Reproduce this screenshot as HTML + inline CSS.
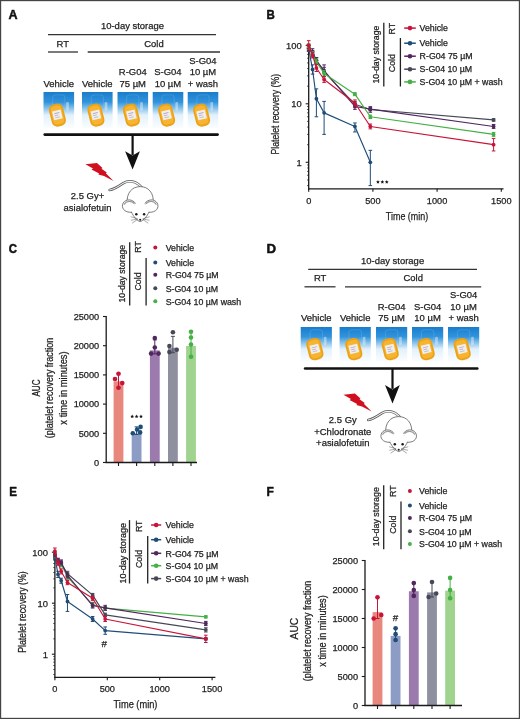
<!DOCTYPE html><html><head><meta charset="utf-8"><style>html,body{margin:0;padding:0;background:#fff;width:520px;height:719px;overflow:hidden;position:relative}</style></head><body><svg width="520" height="719" viewBox="0 0 520 719" style="position:absolute;left:0;top:0;will-change:transform;filter:blur(0.25px)">
<defs><linearGradient id="skyg" x1="0" y1="0" x2="0" y2="1"><stop offset="0" stop-color="#1a7dcc"/><stop offset="0.28" stop-color="#3193dc"/><stop offset="0.48" stop-color="#94c9ee"/><stop offset="0.64" stop-color="#e2f1fb"/><stop offset="1" stop-color="#fbfdff"/></linearGradient></defs>
<g style='font-family:"Liberation Sans", sans-serif'>
<rect x="0" y="0" width="520" height="719" fill="#fff"/>
<text transform="translate(8.47,18.55) scale(0.967,1)" x="0" y="0" font-size="13.0" font-weight="bold" fill="#111" stroke="#111" stroke-width="0.5" stroke-linejoin="round">A</text>
<text transform="translate(266.55,18.55) scale(0.883,1)" x="0" y="0" font-size="13.0" font-weight="bold" fill="#111" stroke="#111" stroke-width="0.5" stroke-linejoin="round">B</text>
<text transform="translate(8.84,252.95) scale(0.876,1)" x="0" y="0" font-size="13.0" font-weight="bold" fill="#111" stroke="#111" stroke-width="0.5" stroke-linejoin="round">C</text>
<text transform="translate(266.42,252.95) scale(1.021,1)" x="0" y="0" font-size="13.0" font-weight="bold" fill="#111" stroke="#111" stroke-width="0.5" stroke-linejoin="round">D</text>
<text transform="translate(9.14,496.35) scale(0.893,1)" x="0" y="0" font-size="13.0" font-weight="bold" fill="#111" stroke="#111" stroke-width="0.5" stroke-linejoin="round">E</text>
<text transform="translate(266.51,496.35) scale(0.923,1)" x="0" y="0" font-size="13.0" font-weight="bold" fill="#111" stroke="#111" stroke-width="0.5" stroke-linejoin="round">F</text>
<text x="132.5" y="29.4" font-size="9.7" text-anchor="middle" font-weight="normal" fill="#222" stroke="#222" stroke-width="0.25" textLength="63.09" lengthAdjust="spacingAndGlyphs" >10-day storage</text>
<line x1="48" y1="34.6" x2="216" y2="34.6" stroke="#333" stroke-width="1.3" />
<text x="62.8" y="46.6" font-size="9.7" text-anchor="middle" font-weight="normal" fill="#222" stroke="#222" stroke-width="0.25" textLength="12.44" lengthAdjust="spacingAndGlyphs" >RT</text>
<text x="154" y="46.6" font-size="9.7" text-anchor="middle" font-weight="normal" fill="#222" stroke="#222" stroke-width="0.25" textLength="19.45" lengthAdjust="spacingAndGlyphs" >Cold</text>
<line x1="48" y1="52" x2="78" y2="52" stroke="#333" stroke-width="1.3" />
<line x1="87.7" y1="52" x2="220" y2="52" stroke="#333" stroke-width="1.3" />
<text x="58.75" y="86.7" font-size="9.7" text-anchor="middle" font-weight="normal" fill="#222" stroke="#222" stroke-width="0.25" textLength="30.5" lengthAdjust="spacingAndGlyphs" >Vehicle</text>
<text x="97.25" y="86.7" font-size="9.7" text-anchor="middle" font-weight="normal" fill="#222" stroke="#222" stroke-width="0.25" textLength="30.5" lengthAdjust="spacingAndGlyphs" >Vehicle</text>
<text x="132.75" y="75.4" font-size="9.7" text-anchor="middle" font-weight="normal" fill="#222" stroke="#222" stroke-width="0.25" textLength="27.86" lengthAdjust="spacingAndGlyphs" >R-G04</text>
<text x="132.75" y="86.7" font-size="9.7" text-anchor="middle" font-weight="normal" fill="#222" stroke="#222" stroke-width="0.25" textLength="26.47" lengthAdjust="spacingAndGlyphs" >75 µM</text>
<text x="167.95" y="75.4" font-size="9.7" text-anchor="middle" font-weight="normal" fill="#222" stroke="#222" stroke-width="0.25" textLength="27.33" lengthAdjust="spacingAndGlyphs" >S-G04</text>
<text x="167.95" y="86.7" font-size="9.7" text-anchor="middle" font-weight="normal" fill="#222" stroke="#222" stroke-width="0.25" textLength="26.47" lengthAdjust="spacingAndGlyphs" >10 µM</text>
<text x="202.95" y="63.9" font-size="9.7" text-anchor="middle" font-weight="normal" fill="#222" stroke="#222" stroke-width="0.25" textLength="27.33" lengthAdjust="spacingAndGlyphs" >S-G04</text>
<text x="202.95" y="75.4" font-size="9.7" text-anchor="middle" font-weight="normal" fill="#222" stroke="#222" stroke-width="0.25" textLength="26.47" lengthAdjust="spacingAndGlyphs" >10 µM</text>
<text x="202.95" y="86.7" font-size="9.7" text-anchor="middle" font-weight="normal" fill="#222" stroke="#222" stroke-width="0.25" textLength="30.23" lengthAdjust="spacingAndGlyphs" >+ wash</text>
<g transform="translate(43.5,92)">
<rect x="0" y="0" width="30.6" height="36" fill="url(#skyg)"/>
<path d="M9.18,14.4 L9.18,5.76 Q9.18,2.88 12.240000000000002,2.88 L18.972,2.88 Q21.419999999999998,2.88 21.419999999999998,5.76 L21.419999999999998,14.4" stroke="#bfe0f6" stroke-width="0.5" fill="none" opacity="0.35"/>
<rect x="22.644000000000002" y="10.080000000000002" width="2.754" height="8.64" rx="1.2" fill="#e4eef4" opacity="0.5"/>
<g transform="translate(13.92,23.04) rotate(-14)">
<rect x="-7.19" y="-11.34" width="14.38" height="22.68" rx="5.5" fill="#eda216"/>
<rect x="-5.51" y="-9.36" width="11.02" height="18.72" rx="4" fill="#f6b430"/>
<rect x="-4.44" y="-4.68" width="8.87" height="9.00" fill="#f3eee9"/>
<rect x="-2.75" y="-2.52" width="5.20" height="0.90" fill="#aab0d0"/>
<rect x="-2.75" y="-0.36" width="3.67" height="0.90" fill="#c0acd0"/>
<rect x="-2.75" y="1.80" width="4.59" height="0.90" fill="#b0c2dc"/>
</g>
</g>
<g transform="translate(82,92)">
<rect x="0" y="0" width="30.6" height="36" fill="url(#skyg)"/>
<path d="M9.18,14.4 L9.18,5.76 Q9.18,2.88 12.240000000000002,2.88 L18.972,2.88 Q21.419999999999998,2.88 21.419999999999998,5.76 L21.419999999999998,14.4" stroke="#bfe0f6" stroke-width="0.5" fill="none" opacity="0.35"/>
<rect x="22.644000000000002" y="10.080000000000002" width="2.754" height="8.64" rx="1.2" fill="#e4eef4" opacity="0.5"/>
<g transform="translate(13.92,23.04) rotate(-14)">
<rect x="-7.19" y="-11.34" width="14.38" height="22.68" rx="5.5" fill="#eda216"/>
<rect x="-5.51" y="-9.36" width="11.02" height="18.72" rx="4" fill="#f6b430"/>
<rect x="-4.44" y="-4.68" width="8.87" height="9.00" fill="#f3eee9"/>
<rect x="-2.75" y="-2.52" width="5.20" height="0.90" fill="#aab0d0"/>
<rect x="-2.75" y="-0.36" width="3.67" height="0.90" fill="#c0acd0"/>
<rect x="-2.75" y="1.80" width="4.59" height="0.90" fill="#b0c2dc"/>
</g>
</g>
<g transform="translate(117.5,92)">
<rect x="0" y="0" width="30.6" height="36" fill="url(#skyg)"/>
<path d="M9.18,14.4 L9.18,5.76 Q9.18,2.88 12.240000000000002,2.88 L18.972,2.88 Q21.419999999999998,2.88 21.419999999999998,5.76 L21.419999999999998,14.4" stroke="#bfe0f6" stroke-width="0.5" fill="none" opacity="0.35"/>
<rect x="22.644000000000002" y="10.080000000000002" width="2.754" height="8.64" rx="1.2" fill="#e4eef4" opacity="0.5"/>
<g transform="translate(13.92,23.04) rotate(-14)">
<rect x="-7.19" y="-11.34" width="14.38" height="22.68" rx="5.5" fill="#eda216"/>
<rect x="-5.51" y="-9.36" width="11.02" height="18.72" rx="4" fill="#f6b430"/>
<rect x="-4.44" y="-4.68" width="8.87" height="9.00" fill="#f3eee9"/>
<rect x="-2.75" y="-2.52" width="5.20" height="0.90" fill="#aab0d0"/>
<rect x="-2.75" y="-0.36" width="3.67" height="0.90" fill="#c0acd0"/>
<rect x="-2.75" y="1.80" width="4.59" height="0.90" fill="#b0c2dc"/>
</g>
</g>
<g transform="translate(152.7,92)">
<rect x="0" y="0" width="30.6" height="36" fill="url(#skyg)"/>
<path d="M9.18,14.4 L9.18,5.76 Q9.18,2.88 12.240000000000002,2.88 L18.972,2.88 Q21.419999999999998,2.88 21.419999999999998,5.76 L21.419999999999998,14.4" stroke="#bfe0f6" stroke-width="0.5" fill="none" opacity="0.35"/>
<rect x="22.644000000000002" y="10.080000000000002" width="2.754" height="8.64" rx="1.2" fill="#e4eef4" opacity="0.5"/>
<g transform="translate(13.92,23.04) rotate(-14)">
<rect x="-7.19" y="-11.34" width="14.38" height="22.68" rx="5.5" fill="#eda216"/>
<rect x="-5.51" y="-9.36" width="11.02" height="18.72" rx="4" fill="#f6b430"/>
<rect x="-4.44" y="-4.68" width="8.87" height="9.00" fill="#f3eee9"/>
<rect x="-2.75" y="-2.52" width="5.20" height="0.90" fill="#aab0d0"/>
<rect x="-2.75" y="-0.36" width="3.67" height="0.90" fill="#c0acd0"/>
<rect x="-2.75" y="1.80" width="4.59" height="0.90" fill="#b0c2dc"/>
</g>
</g>
<g transform="translate(187.7,92)">
<rect x="0" y="0" width="30.6" height="36" fill="url(#skyg)"/>
<path d="M9.18,14.4 L9.18,5.76 Q9.18,2.88 12.240000000000002,2.88 L18.972,2.88 Q21.419999999999998,2.88 21.419999999999998,5.76 L21.419999999999998,14.4" stroke="#bfe0f6" stroke-width="0.5" fill="none" opacity="0.35"/>
<rect x="22.644000000000002" y="10.080000000000002" width="2.754" height="8.64" rx="1.2" fill="#e4eef4" opacity="0.5"/>
<g transform="translate(13.92,23.04) rotate(-14)">
<rect x="-7.19" y="-11.34" width="14.38" height="22.68" rx="5.5" fill="#eda216"/>
<rect x="-5.51" y="-9.36" width="11.02" height="18.72" rx="4" fill="#f6b430"/>
<rect x="-4.44" y="-4.68" width="8.87" height="9.00" fill="#f3eee9"/>
<rect x="-2.75" y="-2.52" width="5.20" height="0.90" fill="#aab0d0"/>
<rect x="-2.75" y="-0.36" width="3.67" height="0.90" fill="#c0acd0"/>
<rect x="-2.75" y="1.80" width="4.59" height="0.90" fill="#b0c2dc"/>
</g>
</g>
<line x1="44.7" y1="134.6" x2="217.60000000000002" y2="134.6" stroke="#111" stroke-width="2.6" stroke-linecap="round"/>
<line x1="132.6" y1="135" x2="132.6" y2="155" stroke="#111" stroke-width="2.2" />
<polygon points="125.1,151.2 132.6,155.6 139.9,151.2 132.6,169.5" fill="#111"/>
<polygon transform="translate(0,0)" points="85.4,164.2 96.9,163 102.5,168 101.5,168.8 106.8,172.5 105.8,173.3 113.6,181 104,176 98.3,174.6 99.2,173.6 91.5,169.6 93,168.6" fill="#d0101f"/>
<text x="87.5" y="199.4" font-size="9.7" text-anchor="middle" font-weight="normal" fill="#222" stroke="#222" stroke-width="0.25" textLength="33.38" lengthAdjust="spacingAndGlyphs" >2.5 Gy+</text>
<text x="87.5" y="210.6" font-size="9.7" text-anchor="middle" font-weight="normal" fill="#222" stroke="#222" stroke-width="0.25" textLength="47.85" lengthAdjust="spacingAndGlyphs" >asialofetuin</text>
<g transform="translate(0,0)" fill="none" stroke="#505050" stroke-width="0.75" stroke-linecap="round">
<path d="M109.6,190 C114,189.5 118,186.8 123,183.4 C128.5,180 136,180.5 142,187.8" stroke="#5a5a5a" stroke-width="2.5"/>
<path d="M109.6,190 C114,189.5 118,186.8 123,183.4 C128.5,180 136,180.5 142,187.8" stroke="#f4f4f4" stroke-width="1.1"/>
<path d="M127.2,203 C126.2,193 132,186.6 140.2,186.6 C148.4,186.6 154.2,193 153.2,203" fill="#fff"/>
<path d="M135.5,203.5 C133,199 126,198.5 123.2,203 C120.8,207.5 124,212.8 131.5,212.3 Z" fill="#fff"/>
<path d="M144.9,203.5 C147.4,199 154.4,198.5 157.2,203 C159.6,207.5 156.4,212.8 148.9,212.3 Z" fill="#fff" />
<path d="M124.3,204.2 C126,200.8 131.5,200.6 134,203.2" stroke="#9a9a9a" stroke-width="1.3"/>
<path d="M146.4,203.2 C148.9,200.6 154.4,200.8 156.1,204.2" stroke="#9a9a9a" stroke-width="1.3"/>
<path d="M135.5,203.5 C133,207 131.5,210 131.5,212.3 C133.5,216.5 137,220.8 140.2,221.6 C143.4,220.8 146.9,216.5 148.9,212.3 C148.9,210 147.4,207 144.9,203.5 Z" fill="#fff" stroke="none"/>
<path d="M131.5,212.3 C133.5,216.5 137,220.8 140.2,221.6 C143.4,220.8 146.9,216.5 148.9,212.3"/>
<circle cx="136.3" cy="214.3" r="1.25" fill="#1a1a1a" stroke="none"/>
<circle cx="144.1" cy="214.3" r="1.25" fill="#1a1a1a" stroke="none"/>
<circle cx="140.2" cy="219.7" r="1.05" fill="#1a1a1a" stroke="none"/>
<path d="M137.2,218.6 L131,216.8 M137.2,219.1 L131.2,220.2 M137.4,219.6 L132.4,223 M143.2,218.6 L149.4,216.8 M143.2,219.1 L149.2,220.2 M143,219.6 L148,223" stroke="#555" stroke-width="0.5"/>
</g>
<text x="392.6" y="263.8" font-size="9.7" text-anchor="middle" font-weight="normal" fill="#222" stroke="#222" stroke-width="0.25" textLength="63.09" lengthAdjust="spacingAndGlyphs" >10-day storage</text>
<line x1="308.2" y1="269.3" x2="477" y2="269.3" stroke="#333" stroke-width="1.3" />
<text x="320.2" y="281.3" font-size="9.7" text-anchor="middle" font-weight="normal" fill="#222" stroke="#222" stroke-width="0.25" textLength="12.44" lengthAdjust="spacingAndGlyphs" >RT</text>
<text x="413.2" y="281.3" font-size="9.7" text-anchor="middle" font-weight="normal" fill="#222" stroke="#222" stroke-width="0.25" textLength="19.45" lengthAdjust="spacingAndGlyphs" >Cold</text>
<line x1="304.5" y1="286.8" x2="335.5" y2="286.8" stroke="#333" stroke-width="1.3" />
<line x1="345" y1="286.8" x2="481.2" y2="286.8" stroke="#333" stroke-width="1.3" />
<text x="316.3" y="321.3" font-size="9.7" text-anchor="middle" font-weight="normal" fill="#222" stroke="#222" stroke-width="0.25" textLength="30.5" lengthAdjust="spacingAndGlyphs" >Vehicle</text>
<text x="355.20000000000005" y="321.3" font-size="9.7" text-anchor="middle" font-weight="normal" fill="#222" stroke="#222" stroke-width="0.25" textLength="30.5" lengthAdjust="spacingAndGlyphs" >Vehicle</text>
<text x="391.6" y="310" font-size="9.7" text-anchor="middle" font-weight="normal" fill="#222" stroke="#222" stroke-width="0.25" textLength="27.86" lengthAdjust="spacingAndGlyphs" >R-G04</text>
<text x="391.6" y="321.3" font-size="9.7" text-anchor="middle" font-weight="normal" fill="#222" stroke="#222" stroke-width="0.25" textLength="26.47" lengthAdjust="spacingAndGlyphs" >75 µM</text>
<text x="427.6" y="310" font-size="9.7" text-anchor="middle" font-weight="normal" fill="#222" stroke="#222" stroke-width="0.25" textLength="27.33" lengthAdjust="spacingAndGlyphs" >S-G04</text>
<text x="427.6" y="321.3" font-size="9.7" text-anchor="middle" font-weight="normal" fill="#222" stroke="#222" stroke-width="0.25" textLength="26.47" lengthAdjust="spacingAndGlyphs" >10 µM</text>
<text x="463.6" y="298.4" font-size="9.7" text-anchor="middle" font-weight="normal" fill="#222" stroke="#222" stroke-width="0.25" textLength="27.33" lengthAdjust="spacingAndGlyphs" >S-G04</text>
<text x="463.6" y="310" font-size="9.7" text-anchor="middle" font-weight="normal" fill="#222" stroke="#222" stroke-width="0.25" textLength="26.47" lengthAdjust="spacingAndGlyphs" >10 µM</text>
<text x="463.6" y="321.3" font-size="9.7" text-anchor="middle" font-weight="normal" fill="#222" stroke="#222" stroke-width="0.25" textLength="30.23" lengthAdjust="spacingAndGlyphs" >+ wash</text>
<g transform="translate(300.7,327)">
<rect x="0" y="0" width="31.2" height="34.6" fill="url(#skyg)"/>
<path d="M9.36,13.840000000000002 L9.36,5.5360000000000005 Q9.36,2.7680000000000002 12.48,2.7680000000000002 L19.344,2.7680000000000002 Q21.84,2.7680000000000002 21.84,5.5360000000000005 L21.84,13.840000000000002" stroke="#bfe0f6" stroke-width="0.5" fill="none" opacity="0.35"/>
<rect x="23.088" y="9.688" width="2.808" height="8.304" rx="1.2" fill="#e4eef4" opacity="0.5"/>
<g transform="translate(14.20,22.14) rotate(-14)">
<rect x="-7.33" y="-10.90" width="14.66" height="21.80" rx="5.5" fill="#eda216"/>
<rect x="-5.62" y="-9.00" width="11.23" height="17.99" rx="4" fill="#f6b430"/>
<rect x="-4.52" y="-4.50" width="9.05" height="8.65" fill="#f3eee9"/>
<rect x="-2.81" y="-2.42" width="5.30" height="0.87" fill="#aab0d0"/>
<rect x="-2.81" y="-0.35" width="3.74" height="0.87" fill="#c0acd0"/>
<rect x="-2.81" y="1.73" width="4.68" height="0.87" fill="#b0c2dc"/>
</g>
</g>
<g transform="translate(339.6,327)">
<rect x="0" y="0" width="31.2" height="34.6" fill="url(#skyg)"/>
<path d="M9.36,13.840000000000002 L9.36,5.5360000000000005 Q9.36,2.7680000000000002 12.48,2.7680000000000002 L19.344,2.7680000000000002 Q21.84,2.7680000000000002 21.84,5.5360000000000005 L21.84,13.840000000000002" stroke="#bfe0f6" stroke-width="0.5" fill="none" opacity="0.35"/>
<rect x="23.088" y="9.688" width="2.808" height="8.304" rx="1.2" fill="#e4eef4" opacity="0.5"/>
<g transform="translate(14.20,22.14) rotate(-14)">
<rect x="-7.33" y="-10.90" width="14.66" height="21.80" rx="5.5" fill="#eda216"/>
<rect x="-5.62" y="-9.00" width="11.23" height="17.99" rx="4" fill="#f6b430"/>
<rect x="-4.52" y="-4.50" width="9.05" height="8.65" fill="#f3eee9"/>
<rect x="-2.81" y="-2.42" width="5.30" height="0.87" fill="#aab0d0"/>
<rect x="-2.81" y="-0.35" width="3.74" height="0.87" fill="#c0acd0"/>
<rect x="-2.81" y="1.73" width="4.68" height="0.87" fill="#b0c2dc"/>
</g>
</g>
<g transform="translate(376,327)">
<rect x="0" y="0" width="31.2" height="34.6" fill="url(#skyg)"/>
<path d="M9.36,13.840000000000002 L9.36,5.5360000000000005 Q9.36,2.7680000000000002 12.48,2.7680000000000002 L19.344,2.7680000000000002 Q21.84,2.7680000000000002 21.84,5.5360000000000005 L21.84,13.840000000000002" stroke="#bfe0f6" stroke-width="0.5" fill="none" opacity="0.35"/>
<rect x="23.088" y="9.688" width="2.808" height="8.304" rx="1.2" fill="#e4eef4" opacity="0.5"/>
<g transform="translate(14.20,22.14) rotate(-14)">
<rect x="-7.33" y="-10.90" width="14.66" height="21.80" rx="5.5" fill="#eda216"/>
<rect x="-5.62" y="-9.00" width="11.23" height="17.99" rx="4" fill="#f6b430"/>
<rect x="-4.52" y="-4.50" width="9.05" height="8.65" fill="#f3eee9"/>
<rect x="-2.81" y="-2.42" width="5.30" height="0.87" fill="#aab0d0"/>
<rect x="-2.81" y="-0.35" width="3.74" height="0.87" fill="#c0acd0"/>
<rect x="-2.81" y="1.73" width="4.68" height="0.87" fill="#b0c2dc"/>
</g>
</g>
<g transform="translate(412,327)">
<rect x="0" y="0" width="31.2" height="34.6" fill="url(#skyg)"/>
<path d="M9.36,13.840000000000002 L9.36,5.5360000000000005 Q9.36,2.7680000000000002 12.48,2.7680000000000002 L19.344,2.7680000000000002 Q21.84,2.7680000000000002 21.84,5.5360000000000005 L21.84,13.840000000000002" stroke="#bfe0f6" stroke-width="0.5" fill="none" opacity="0.35"/>
<rect x="23.088" y="9.688" width="2.808" height="8.304" rx="1.2" fill="#e4eef4" opacity="0.5"/>
<g transform="translate(14.20,22.14) rotate(-14)">
<rect x="-7.33" y="-10.90" width="14.66" height="21.80" rx="5.5" fill="#eda216"/>
<rect x="-5.62" y="-9.00" width="11.23" height="17.99" rx="4" fill="#f6b430"/>
<rect x="-4.52" y="-4.50" width="9.05" height="8.65" fill="#f3eee9"/>
<rect x="-2.81" y="-2.42" width="5.30" height="0.87" fill="#aab0d0"/>
<rect x="-2.81" y="-0.35" width="3.74" height="0.87" fill="#c0acd0"/>
<rect x="-2.81" y="1.73" width="4.68" height="0.87" fill="#b0c2dc"/>
</g>
</g>
<g transform="translate(448,327)">
<rect x="0" y="0" width="31.2" height="34.6" fill="url(#skyg)"/>
<path d="M9.36,13.840000000000002 L9.36,5.5360000000000005 Q9.36,2.7680000000000002 12.48,2.7680000000000002 L19.344,2.7680000000000002 Q21.84,2.7680000000000002 21.84,5.5360000000000005 L21.84,13.840000000000002" stroke="#bfe0f6" stroke-width="0.5" fill="none" opacity="0.35"/>
<rect x="23.088" y="9.688" width="2.808" height="8.304" rx="1.2" fill="#e4eef4" opacity="0.5"/>
<g transform="translate(14.20,22.14) rotate(-14)">
<rect x="-7.33" y="-10.90" width="14.66" height="21.80" rx="5.5" fill="#eda216"/>
<rect x="-5.62" y="-9.00" width="11.23" height="17.99" rx="4" fill="#f6b430"/>
<rect x="-4.52" y="-4.50" width="9.05" height="8.65" fill="#f3eee9"/>
<rect x="-2.81" y="-2.42" width="5.30" height="0.87" fill="#aab0d0"/>
<rect x="-2.81" y="-0.35" width="3.74" height="0.87" fill="#c0acd0"/>
<rect x="-2.81" y="1.73" width="4.68" height="0.87" fill="#b0c2dc"/>
</g>
</g>
<line x1="305.09999999999997" y1="368.5" x2="477.3" y2="368.5" stroke="#111" stroke-width="2.6" stroke-linecap="round"/>
<line x1="392.5" y1="368.9" x2="392.5" y2="388.9" stroke="#111" stroke-width="2.2" />
<polygon points="385.0,385.1 392.5,389.5 399.79999999999995,385.1 392.5,403.4" fill="#111"/>
<polygon transform="translate(258,230.5)" points="85.4,164.2 96.9,163 102.5,168 101.5,168.8 106.8,172.5 105.8,173.3 113.6,181 104,176 98.3,174.6 99.2,173.6 91.5,169.6 93,168.6" fill="#d0101f"/>
<text x="342.8" y="423.4" font-size="9.7" text-anchor="middle" font-weight="normal" fill="#222" stroke="#222" stroke-width="0.25" textLength="27.86" lengthAdjust="spacingAndGlyphs" >2.5 Gy</text>
<text x="342.8" y="434.5" font-size="9.7" text-anchor="middle" font-weight="normal" fill="#222" stroke="#222" stroke-width="0.25" textLength="57.05" lengthAdjust="spacingAndGlyphs" >+Chlodronate</text>
<text x="342.8" y="445.6" font-size="9.7" text-anchor="middle" font-weight="normal" fill="#222" stroke="#222" stroke-width="0.25" textLength="53.37" lengthAdjust="spacingAndGlyphs" >+asialofetuin</text>
<g transform="translate(258.5,230)" fill="none" stroke="#505050" stroke-width="0.75" stroke-linecap="round">
<path d="M109.6,190 C114,189.5 118,186.8 123,183.4 C128.5,180 136,180.5 142,187.8" stroke="#5a5a5a" stroke-width="2.5"/>
<path d="M109.6,190 C114,189.5 118,186.8 123,183.4 C128.5,180 136,180.5 142,187.8" stroke="#f4f4f4" stroke-width="1.1"/>
<path d="M127.2,203 C126.2,193 132,186.6 140.2,186.6 C148.4,186.6 154.2,193 153.2,203" fill="#fff"/>
<path d="M135.5,203.5 C133,199 126,198.5 123.2,203 C120.8,207.5 124,212.8 131.5,212.3 Z" fill="#fff"/>
<path d="M144.9,203.5 C147.4,199 154.4,198.5 157.2,203 C159.6,207.5 156.4,212.8 148.9,212.3 Z" fill="#fff" />
<path d="M124.3,204.2 C126,200.8 131.5,200.6 134,203.2" stroke="#9a9a9a" stroke-width="1.3"/>
<path d="M146.4,203.2 C148.9,200.6 154.4,200.8 156.1,204.2" stroke="#9a9a9a" stroke-width="1.3"/>
<path d="M135.5,203.5 C133,207 131.5,210 131.5,212.3 C133.5,216.5 137,220.8 140.2,221.6 C143.4,220.8 146.9,216.5 148.9,212.3 C148.9,210 147.4,207 144.9,203.5 Z" fill="#fff" stroke="none"/>
<path d="M131.5,212.3 C133.5,216.5 137,220.8 140.2,221.6 C143.4,220.8 146.9,216.5 148.9,212.3"/>
<circle cx="136.3" cy="214.3" r="1.25" fill="#1a1a1a" stroke="none"/>
<circle cx="144.1" cy="214.3" r="1.25" fill="#1a1a1a" stroke="none"/>
<circle cx="140.2" cy="219.7" r="1.05" fill="#1a1a1a" stroke="none"/>
<path d="M137.2,218.6 L131,216.8 M137.2,219.1 L131.2,220.2 M137.4,219.6 L132.4,223 M143.2,218.6 L149.4,216.8 M143.2,219.1 L149.2,220.2 M143,219.6 L148,223" stroke="#555" stroke-width="0.5"/>
</g>
<line x1="383.8" y1="22.7" x2="383.8" y2="86.5" stroke="#222" stroke-width="1.3" />
<line x1="400.4" y1="38" x2="400.4" y2="86.5" stroke="#222" stroke-width="1.3" />
<text transform="translate(375.8,54.6) rotate(-90)" x="0" y="3.17" font-size="8.8" text-anchor="middle" fill="#222" stroke="#222" stroke-width="0.25" textLength="57.7" lengthAdjust="spacingAndGlyphs">10-day storage</text>
<text transform="translate(392.1,28.7) rotate(-90)" x="0" y="3.17" font-size="8.8" text-anchor="middle" fill="#222" stroke="#222" stroke-width="0.25">RT</text>
<text transform="translate(392.1,63.1) rotate(-90)" x="0" y="3.17" font-size="8.8" text-anchor="middle" fill="#222" stroke="#222" stroke-width="0.25">Cold</text>
<line x1="404.2" y1="28.1" x2="415.8" y2="28.1" stroke="#c8143a" stroke-width="1.5" />
<circle cx="410.0" cy="28.1" r="2.3" fill="#c8143a"/>
<text x="419.6" y="31.3" font-size="8.8" text-anchor="start" font-weight="normal" fill="#222" stroke="#222" stroke-width="0.25" >Vehicle</text>
<line x1="404.2" y1="43.2" x2="415.8" y2="43.2" stroke="#1f4d78" stroke-width="1.5" />
<circle cx="410.0" cy="43.2" r="2.3" fill="#1f4d78"/>
<text x="419.6" y="46.400000000000006" font-size="8.8" text-anchor="start" font-weight="normal" fill="#222" stroke="#222" stroke-width="0.25" >Vehicle</text>
<line x1="404.2" y1="56.2" x2="415.8" y2="56.2" stroke="#52265f" stroke-width="1.5" />
<circle cx="410.0" cy="56.2" r="2.3" fill="#52265f"/>
<text x="419.6" y="59.400000000000006" font-size="8.8" text-anchor="start" font-weight="normal" fill="#222" stroke="#222" stroke-width="0.25" >R-G04 75 µM</text>
<line x1="404.2" y1="69.2" x2="415.8" y2="69.2" stroke="#464856" stroke-width="1.5" />
<circle cx="410.0" cy="69.2" r="2.3" fill="#464856"/>
<text x="419.6" y="72.4" font-size="8.8" text-anchor="start" font-weight="normal" fill="#222" stroke="#222" stroke-width="0.25" >S-G04 10 µM</text>
<line x1="404.2" y1="81.9" x2="415.8" y2="81.9" stroke="#45b045" stroke-width="1.5" />
<circle cx="410.0" cy="81.9" r="2.3" fill="#45b045"/>
<text x="419.6" y="85.10000000000001" font-size="8.8" text-anchor="start" font-weight="normal" fill="#222" stroke="#222" stroke-width="0.25" >S-G04 10 µM + wash</text>
<line x1="129.7" y1="242.2" x2="129.7" y2="305.6" stroke="#222" stroke-width="1.3" />
<line x1="146.1" y1="258" x2="146.1" y2="305.6" stroke="#222" stroke-width="1.3" />
<text transform="translate(121.75,273.7) rotate(-90)" x="0" y="3.17" font-size="8.8" text-anchor="middle" fill="#222" stroke="#222" stroke-width="0.25" textLength="57.5" lengthAdjust="spacingAndGlyphs">10-day storage</text>
<text transform="translate(137.89999999999998,246.9) rotate(-90)" x="0" y="3.17" font-size="8.8" text-anchor="middle" fill="#222" stroke="#222" stroke-width="0.25">RT</text>
<text transform="translate(137.89999999999998,281.5) rotate(-90)" x="0" y="3.17" font-size="8.8" text-anchor="middle" fill="#222" stroke="#222" stroke-width="0.25">Cold</text>
<circle cx="155.3" cy="247.4" r="2.0" fill="#c8143a"/>
<text x="165.7" y="250.6" font-size="8.8" text-anchor="start" font-weight="normal" fill="#222" stroke="#222" stroke-width="0.25" >Vehicle</text>
<circle cx="155.3" cy="262.4" r="2.0" fill="#1f4d78"/>
<text x="165.7" y="265.59999999999997" font-size="8.8" text-anchor="start" font-weight="normal" fill="#222" stroke="#222" stroke-width="0.25" >Vehicle</text>
<circle cx="155.3" cy="274.8" r="2.0" fill="#52265f"/>
<text x="165.7" y="278.0" font-size="8.8" text-anchor="start" font-weight="normal" fill="#222" stroke="#222" stroke-width="0.25" >R-G04 75 µM</text>
<circle cx="155.3" cy="288.3" r="2.0" fill="#464856"/>
<text x="165.7" y="291.5" font-size="8.8" text-anchor="start" font-weight="normal" fill="#222" stroke="#222" stroke-width="0.25" >S-G04 10 µM</text>
<circle cx="155.3" cy="301.3" r="2.0" fill="#45b045"/>
<text x="165.7" y="304.5" font-size="8.8" text-anchor="start" font-weight="normal" fill="#222" stroke="#222" stroke-width="0.25" >S-G04 10 µM wash</text>
<line x1="129.5" y1="520.1" x2="129.5" y2="583.5" stroke="#222" stroke-width="1.3" />
<line x1="147.7" y1="536" x2="147.7" y2="583.5" stroke="#222" stroke-width="1.3" />
<text transform="translate(122.9,553.2) rotate(-90)" x="0" y="3.17" font-size="8.8" text-anchor="middle" fill="#222" stroke="#222" stroke-width="0.25" textLength="60.5" lengthAdjust="spacingAndGlyphs">10-day storage</text>
<text transform="translate(138.6,526.3) rotate(-90)" x="0" y="3.17" font-size="8.8" text-anchor="middle" fill="#222" stroke="#222" stroke-width="0.25">RT</text>
<text transform="translate(138.6,559) rotate(-90)" x="0" y="3.17" font-size="8.8" text-anchor="middle" fill="#222" stroke="#222" stroke-width="0.25">Cold</text>
<line x1="151.1" y1="525" x2="161.2" y2="525" stroke="#c8143a" stroke-width="1.5" />
<circle cx="156.14999999999998" cy="525" r="2.3" fill="#c8143a"/>
<text x="165.6" y="528.2" font-size="8.8" text-anchor="start" font-weight="normal" fill="#222" stroke="#222" stroke-width="0.25" >Vehicle</text>
<line x1="151.1" y1="539.7" x2="161.2" y2="539.7" stroke="#1f4d78" stroke-width="1.5" />
<circle cx="156.14999999999998" cy="539.7" r="2.3" fill="#1f4d78"/>
<text x="165.6" y="542.9000000000001" font-size="8.8" text-anchor="start" font-weight="normal" fill="#222" stroke="#222" stroke-width="0.25" >Vehicle</text>
<line x1="151.1" y1="553.3" x2="161.2" y2="553.3" stroke="#52265f" stroke-width="1.5" />
<circle cx="156.14999999999998" cy="553.3" r="2.3" fill="#52265f"/>
<text x="165.6" y="556.5" font-size="8.8" text-anchor="start" font-weight="normal" fill="#222" stroke="#222" stroke-width="0.25" >R-G04 75 µM</text>
<line x1="151.1" y1="565.7" x2="161.2" y2="565.7" stroke="#45b045" stroke-width="1.5" />
<circle cx="156.14999999999998" cy="565.7" r="2.3" fill="#45b045"/>
<text x="165.6" y="568.9000000000001" font-size="8.8" text-anchor="start" font-weight="normal" fill="#222" stroke="#222" stroke-width="0.25" >S-G04 10 µM</text>
<line x1="151.1" y1="578.6" x2="161.2" y2="578.6" stroke="#464856" stroke-width="1.5" />
<circle cx="156.14999999999998" cy="578.6" r="2.3" fill="#464856"/>
<text x="165.6" y="581.8000000000001" font-size="8.8" text-anchor="start" font-weight="normal" fill="#222" stroke="#222" stroke-width="0.25" >S-G04 10 µM + wash</text>
<line x1="383.7" y1="485.2" x2="383.7" y2="549.2" stroke="#222" stroke-width="1.3" />
<line x1="401" y1="501.6" x2="401" y2="549.2" stroke="#222" stroke-width="1.3" />
<text transform="translate(375.9,516.7) rotate(-90)" x="0" y="3.17" font-size="8.8" text-anchor="middle" fill="#222" stroke="#222" stroke-width="0.25" textLength="59" lengthAdjust="spacingAndGlyphs">10-day storage</text>
<text transform="translate(392.35,491.1) rotate(-90)" x="0" y="3.17" font-size="8.8" text-anchor="middle" fill="#222" stroke="#222" stroke-width="0.25">RT</text>
<text transform="translate(392.35,524.7) rotate(-90)" x="0" y="3.17" font-size="8.8" text-anchor="middle" fill="#222" stroke="#222" stroke-width="0.25">Cold</text>
<circle cx="409.9" cy="491" r="2.0" fill="#c8143a"/>
<text x="419.1" y="494.2" font-size="8.8" text-anchor="start" font-weight="normal" fill="#222" stroke="#222" stroke-width="0.25" >Vehicle</text>
<circle cx="409.9" cy="505.4" r="2.0" fill="#1f4d78"/>
<text x="419.1" y="508.59999999999997" font-size="8.8" text-anchor="start" font-weight="normal" fill="#222" stroke="#222" stroke-width="0.25" >Vehicle</text>
<circle cx="409.9" cy="518.1" r="2.0" fill="#52265f"/>
<text x="419.1" y="521.3000000000001" font-size="8.8" text-anchor="start" font-weight="normal" fill="#222" stroke="#222" stroke-width="0.25" >R-G04 75 µM</text>
<circle cx="409.9" cy="531.3" r="2.0" fill="#464856"/>
<text x="419.1" y="534.5" font-size="8.8" text-anchor="start" font-weight="normal" fill="#222" stroke="#222" stroke-width="0.25" >S-G04 10 µM</text>
<circle cx="409.9" cy="544" r="2.0" fill="#45b045"/>
<text x="419.1" y="547.2" font-size="8.8" text-anchor="start" font-weight="normal" fill="#222" stroke="#222" stroke-width="0.25" >S-G04 10 µM + wash</text>
<line x1="308.7" y1="44.80000000000001" x2="308.7" y2="189.4" stroke="#1a1a1a" stroke-width="1.3" />
<line x1="308.09999999999997" y1="188.8" x2="503.5" y2="188.8" stroke="#1a1a1a" stroke-width="1.3" />
<line x1="305.7" y1="162.3" x2="308.7" y2="162.3" stroke="#1a1a1a" stroke-width="1.1" />
<line x1="305.7" y1="103.80000000000001" x2="308.7" y2="103.80000000000001" stroke="#1a1a1a" stroke-width="1.1" />
<line x1="305.7" y1="45.30000000000001" x2="308.7" y2="45.30000000000001" stroke="#1a1a1a" stroke-width="1.1" />
<line x1="307.09999999999997" y1="185.5794905073142" x2="308.7" y2="185.5794905073142" stroke="#1a1a1a" stroke-width="0.8" />
<line x1="307.09999999999997" y1="179.9102547463429" x2="308.7" y2="179.9102547463429" stroke="#1a1a1a" stroke-width="0.8" />
<line x1="307.09999999999997" y1="175.27815185255685" x2="308.7" y2="175.27815185255685" stroke="#1a1a1a" stroke-width="0.8" />
<line x1="307.09999999999997" y1="171.361764659166" x2="308.7" y2="171.361764659166" stroke="#1a1a1a" stroke-width="0.8" />
<line x1="307.09999999999997" y1="167.96923576097132" x2="308.7" y2="167.96923576097132" stroke="#1a1a1a" stroke-width="0.8" />
<line x1="307.09999999999997" y1="164.97681319779952" x2="308.7" y2="164.97681319779952" stroke="#1a1a1a" stroke-width="0.8" />
<line x1="307.09999999999997" y1="144.68974525365712" x2="308.7" y2="144.68974525365712" stroke="#1a1a1a" stroke-width="0.8" />
<line x1="307.09999999999997" y1="134.38840659889976" x2="308.7" y2="134.38840659889976" stroke="#1a1a1a" stroke-width="0.8" />
<line x1="307.09999999999997" y1="127.0794905073142" x2="308.7" y2="127.0794905073142" stroke="#1a1a1a" stroke-width="0.8" />
<line x1="307.09999999999997" y1="121.4102547463429" x2="308.7" y2="121.4102547463429" stroke="#1a1a1a" stroke-width="0.8" />
<line x1="307.09999999999997" y1="116.77815185255686" x2="308.7" y2="116.77815185255686" stroke="#1a1a1a" stroke-width="0.8" />
<line x1="307.09999999999997" y1="112.86176465916598" x2="308.7" y2="112.86176465916598" stroke="#1a1a1a" stroke-width="0.8" />
<line x1="307.09999999999997" y1="109.46923576097132" x2="308.7" y2="109.46923576097132" stroke="#1a1a1a" stroke-width="0.8" />
<line x1="307.09999999999997" y1="106.47681319779952" x2="308.7" y2="106.47681319779952" stroke="#1a1a1a" stroke-width="0.8" />
<line x1="307.09999999999997" y1="86.18974525365711" x2="308.7" y2="86.18974525365711" stroke="#1a1a1a" stroke-width="0.8" />
<line x1="307.09999999999997" y1="75.88840659889976" x2="308.7" y2="75.88840659889976" stroke="#1a1a1a" stroke-width="0.8" />
<line x1="307.09999999999997" y1="68.5794905073142" x2="308.7" y2="68.5794905073142" stroke="#1a1a1a" stroke-width="0.8" />
<line x1="307.09999999999997" y1="62.910254746342915" x2="308.7" y2="62.910254746342915" stroke="#1a1a1a" stroke-width="0.8" />
<line x1="307.09999999999997" y1="58.27815185255686" x2="308.7" y2="58.27815185255686" stroke="#1a1a1a" stroke-width="0.8" />
<line x1="307.09999999999997" y1="54.361764659165985" x2="308.7" y2="54.361764659165985" stroke="#1a1a1a" stroke-width="0.8" />
<line x1="307.09999999999997" y1="50.969235760971316" x2="308.7" y2="50.969235760971316" stroke="#1a1a1a" stroke-width="0.8" />
<line x1="307.09999999999997" y1="47.976813197799515" x2="308.7" y2="47.976813197799515" stroke="#1a1a1a" stroke-width="0.8" />
<text x="301.7" y="48.70000000000001" font-size="9.4" text-anchor="end" font-weight="normal" fill="#222" stroke="#222" stroke-width="0.25" >100</text>
<text x="301.7" y="107.20000000000002" font-size="9.4" text-anchor="end" font-weight="normal" fill="#222" stroke="#222" stroke-width="0.25" >10</text>
<text x="301.7" y="165.70000000000002" font-size="9.4" text-anchor="end" font-weight="normal" fill="#222" stroke="#222" stroke-width="0.25" >1</text>
<line x1="308.7" y1="188.8" x2="308.7" y2="191.8" stroke="#1a1a1a" stroke-width="1.1" />
<text x="308.7" y="203.9" font-size="9.2" text-anchor="middle" font-weight="normal" fill="#222" stroke="#222" stroke-width="0.25" >0</text>
<line x1="372.9" y1="188.8" x2="372.9" y2="191.8" stroke="#1a1a1a" stroke-width="1.1" />
<text x="372.9" y="203.9" font-size="9.2" text-anchor="middle" font-weight="normal" fill="#222" stroke="#222" stroke-width="0.25" >500</text>
<line x1="437.09999999999997" y1="188.8" x2="437.09999999999997" y2="191.8" stroke="#1a1a1a" stroke-width="1.1" />
<text x="437.09999999999997" y="203.9" font-size="9.2" text-anchor="middle" font-weight="normal" fill="#222" stroke="#222" stroke-width="0.25" >1000</text>
<line x1="501.29999999999995" y1="188.8" x2="501.29999999999995" y2="191.8" stroke="#1a1a1a" stroke-width="1.1" />
<text x="501.29999999999995" y="203.9" font-size="9.2" text-anchor="middle" font-weight="normal" fill="#222" stroke="#222" stroke-width="0.25" >1500</text>
<text transform="translate(274.9,114.2) rotate(-90)" x="0" y="3.89" font-size="10.8" text-anchor="middle" fill="#222" stroke="#222" stroke-width="0.25" textLength="80.5" lengthAdjust="spacingAndGlyphs">Platelet recovery (%)</text>
<text x="407" y="219.5" font-size="11" text-anchor="middle" font-weight="normal" fill="#222" stroke="#222" stroke-width="0.25" textLength="42.3" lengthAdjust="spacingAndGlyphs" >Time (min)</text>
<polyline points="308.70,48.55 312.55,69.48 316.40,98.75 324.11,112.86 354.92,126.45 370.33,162.30" fill="none" stroke="#1f4d78" stroke-width="1.15" stroke-linejoin="round"/>
<line x1="308.7" y1="45.668509353009526" x2="308.7" y2="51.42701800542078" stroke="#1f4d78" stroke-width="1.0" />
<line x1="306.9" y1="45.668509353009526" x2="310.5" y2="45.668509353009526" stroke="#1f4d78" stroke-width="1.0" />
<line x1="306.9" y1="51.42701800542078" x2="310.5" y2="51.42701800542078" stroke="#1f4d78" stroke-width="1.0" />
<circle cx="308.70" cy="48.55" r="1.9" fill="#1f4d78"/>
<line x1="312.55199999999996" y1="64.8525397829163" x2="312.55199999999996" y2="74.11674557048839" stroke="#1f4d78" stroke-width="1.0" />
<line x1="310.75199999999995" y1="64.8525397829163" x2="314.352" y2="64.8525397829163" stroke="#1f4d78" stroke-width="1.0" />
<line x1="310.75199999999995" y1="74.11674557048839" x2="314.352" y2="74.11674557048839" stroke="#1f4d78" stroke-width="1.0" />
<circle cx="312.55" cy="69.48" r="1.9" fill="#1f4d78"/>
<line x1="316.404" y1="88.86655845145661" x2="316.404" y2="116.77815185255686" stroke="#1f4d78" stroke-width="1.0" />
<line x1="314.604" y1="88.86655845145661" x2="318.204" y2="88.86655845145661" stroke="#1f4d78" stroke-width="1.0" />
<line x1="314.604" y1="116.77815185255686" x2="318.204" y2="116.77815185255686" stroke="#1f4d78" stroke-width="1.0" />
<circle cx="316.40" cy="98.75" r="1.9" fill="#1f4d78"/>
<line x1="324.108" y1="101.37852791824386" x2="324.108" y2="134.38840659889976" stroke="#1f4d78" stroke-width="1.0" />
<line x1="322.308" y1="101.37852791824386" x2="325.908" y2="101.37852791824386" stroke="#1f4d78" stroke-width="1.0" />
<line x1="322.308" y1="134.38840659889976" x2="325.908" y2="134.38840659889976" stroke="#1f4d78" stroke-width="1.0" />
<circle cx="324.11" cy="112.86" r="1.9" fill="#1f4d78"/>
<line x1="354.924" y1="122.98227531076054" x2="354.924" y2="131.9669345171436" stroke="#1f4d78" stroke-width="1.0" />
<line x1="353.12399999999997" y1="122.98227531076054" x2="356.724" y2="122.98227531076054" stroke="#1f4d78" stroke-width="1.0" />
<line x1="353.12399999999997" y1="131.9669345171436" x2="356.724" y2="131.9669345171436" stroke="#1f4d78" stroke-width="1.0" />
<circle cx="354.92" cy="126.45" r="1.9" fill="#1f4d78"/>
<line x1="370.332" y1="150.3589810146284" x2="370.332" y2="185.5794905073142" stroke="#1f4d78" stroke-width="1.0" />
<line x1="368.532" y1="150.3589810146284" x2="372.132" y2="150.3589810146284" stroke="#1f4d78" stroke-width="1.0" />
<line x1="368.532" y1="185.5794905073142" x2="372.132" y2="185.5794905073142" stroke="#1f4d78" stroke-width="1.0" />
<circle cx="370.33" cy="162.30" r="1.9" fill="#1f4d78"/>
<polyline points="308.70,48.55 312.55,53.65 316.40,60.49 324.11,71.97 354.92,104.31 370.33,109.47 493.60,119.93" fill="none" stroke="#464856" stroke-width="1.15" stroke-linejoin="round"/>
<line x1="308.7" y1="45.668509353009526" x2="308.7" y2="51.42701800542078" stroke="#464856" stroke-width="1.0" />
<line x1="306.9" y1="45.668509353009526" x2="310.5" y2="45.668509353009526" stroke="#464856" stroke-width="1.0" />
<line x1="306.9" y1="51.42701800542078" x2="310.5" y2="51.42701800542078" stroke="#464856" stroke-width="1.0" />
<circle cx="308.70" cy="48.55" r="1.9" fill="#464856"/>
<line x1="312.55199999999996" y1="50.766794632565166" x2="312.55199999999996" y2="56.52530328497643" stroke="#464856" stroke-width="1.0" />
<line x1="310.75199999999995" y1="50.766794632565166" x2="314.352" y2="50.766794632565166" stroke="#464856" stroke-width="1.0" />
<line x1="310.75199999999995" y1="56.52530328497643" x2="314.352" y2="56.52530328497643" stroke="#464856" stroke-width="1.0" />
<circle cx="312.55" cy="53.65" r="1.9" fill="#464856"/>
<line x1="316.404" y1="57.60952833838111" x2="316.404" y2="63.368036990792376" stroke="#464856" stroke-width="1.0" />
<line x1="314.604" y1="57.60952833838111" x2="318.204" y2="57.60952833838111" stroke="#464856" stroke-width="1.0" />
<line x1="314.604" y1="63.368036990792376" x2="318.204" y2="63.368036990792376" stroke="#464856" stroke-width="1.0" />
<circle cx="316.40" cy="60.49" r="1.9" fill="#464856"/>
<line x1="324.108" y1="67.33991651172283" x2="324.108" y2="76.60412229929494" stroke="#464856" stroke-width="1.0" />
<line x1="322.308" y1="67.33991651172283" x2="325.908" y2="67.33991651172283" stroke="#464856" stroke-width="1.0" />
<line x1="322.308" y1="76.60412229929494" x2="325.908" y2="76.60412229929494" stroke="#464856" stroke-width="1.0" />
<circle cx="324.11" cy="71.97" r="1.9" fill="#464856"/>
<line x1="354.924" y1="101.43402024578343" x2="354.924" y2="107.1925288981947" stroke="#464856" stroke-width="1.0" />
<line x1="353.12399999999997" y1="101.43402024578343" x2="356.724" y2="101.43402024578343" stroke="#464856" stroke-width="1.0" />
<line x1="353.12399999999997" y1="107.1925288981947" x2="356.724" y2="107.1925288981947" stroke="#464856" stroke-width="1.0" />
<circle cx="354.92" cy="104.31" r="1.9" fill="#464856"/>
<line x1="370.332" y1="106.58998143476569" x2="370.332" y2="112.34849008717694" stroke="#464856" stroke-width="1.0" />
<line x1="368.532" y1="106.58998143476569" x2="372.132" y2="106.58998143476569" stroke="#464856" stroke-width="1.0" />
<line x1="368.532" y1="112.34849008717694" x2="372.132" y2="112.34849008717694" stroke="#464856" stroke-width="1.0" />
<circle cx="370.33" cy="109.47" r="1.9" fill="#464856"/>
<line x1="493.596" y1="118.69028763276248" x2="493.596" y2="121.16943562394522" stroke="#464856" stroke-width="1.0" />
<line x1="491.796" y1="118.69028763276248" x2="495.396" y2="118.69028763276248" stroke="#464856" stroke-width="1.0" />
<line x1="491.796" y1="121.16943562394522" x2="495.396" y2="121.16943562394522" stroke="#464856" stroke-width="1.0" />
<circle cx="493.60" cy="119.93" r="1.9" fill="#464856"/>
<polyline points="308.70,47.42 312.55,51.61 316.40,60.49 324.11,70.56 354.92,106.48 370.33,109.15 493.60,126.45" fill="none" stroke="#52265f" stroke-width="1.15" stroke-linejoin="round"/>
<line x1="308.7" y1="44.5391577740794" x2="308.7" y2="50.29766642649065" stroke="#52265f" stroke-width="1.0" />
<line x1="306.9" y1="44.5391577740794" x2="310.5" y2="44.5391577740794" stroke="#52265f" stroke-width="1.0" />
<line x1="306.9" y1="50.29766642649065" x2="310.5" y2="50.29766642649065" stroke="#52265f" stroke-width="1.0" />
<circle cx="308.70" cy="47.42" r="1.9" fill="#52265f"/>
<line x1="312.55199999999996" y1="48.733211416401275" x2="312.55199999999996" y2="54.491720068812526" stroke="#52265f" stroke-width="1.0" />
<line x1="310.75199999999995" y1="48.733211416401275" x2="314.352" y2="48.733211416401275" stroke="#52265f" stroke-width="1.0" />
<line x1="310.75199999999995" y1="54.491720068812526" x2="314.352" y2="54.491720068812526" stroke="#52265f" stroke-width="1.0" />
<circle cx="312.55" cy="51.61" r="1.9" fill="#52265f"/>
<line x1="316.404" y1="57.60952833838111" x2="316.404" y2="63.368036990792376" stroke="#52265f" stroke-width="1.0" />
<line x1="314.604" y1="57.60952833838111" x2="318.204" y2="57.60952833838111" stroke="#52265f" stroke-width="1.0" />
<line x1="314.604" y1="63.368036990792376" x2="318.204" y2="63.368036990792376" stroke="#52265f" stroke-width="1.0" />
<circle cx="316.40" cy="60.49" r="1.9" fill="#52265f"/>
<line x1="324.108" y1="64.8909633811095" x2="324.108" y2="76.22943490305211" stroke="#52265f" stroke-width="1.0" />
<line x1="322.308" y1="64.8909633811095" x2="325.908" y2="64.8909633811095" stroke="#52265f" stroke-width="1.0" />
<line x1="322.308" y1="76.22943490305211" x2="325.908" y2="76.22943490305211" stroke="#52265f" stroke-width="1.0" />
<circle cx="324.11" cy="70.56" r="1.9" fill="#52265f"/>
<line x1="354.924" y1="103.59755887159389" x2="354.924" y2="109.35606752400514" stroke="#52265f" stroke-width="1.0" />
<line x1="353.12399999999997" y1="103.59755887159389" x2="356.724" y2="103.59755887159389" stroke="#52265f" stroke-width="1.0" />
<line x1="353.12399999999997" y1="109.35606752400514" x2="356.724" y2="109.35606752400514" stroke="#52265f" stroke-width="1.0" />
<circle cx="354.92" cy="106.48" r="1.9" fill="#52265f"/>
<line x1="370.332" y1="107.43467540101423" x2="370.332" y2="110.87257739018378" stroke="#52265f" stroke-width="1.0" />
<line x1="368.532" y1="107.43467540101423" x2="372.132" y2="107.43467540101423" stroke="#52265f" stroke-width="1.0" />
<line x1="368.532" y1="110.87257739018378" x2="372.132" y2="110.87257739018378" stroke="#52265f" stroke-width="1.0" />
<circle cx="370.33" cy="109.15" r="1.9" fill="#52265f"/>
<line x1="493.596" y1="124.49685468590893" x2="493.596" y2="128.40743407788204" stroke="#52265f" stroke-width="1.0" />
<line x1="491.796" y1="124.49685468590893" x2="495.396" y2="124.49685468590893" stroke="#52265f" stroke-width="1.0" />
<line x1="491.796" y1="128.40743407788204" x2="495.396" y2="128.40743407788204" stroke="#52265f" stroke-width="1.0" />
<circle cx="493.60" cy="126.45" r="1.9" fill="#52265f"/>
<polyline points="308.70,46.60 312.55,54.36 316.40,61.91 324.11,73.47 354.92,94.19 370.33,116.78 493.60,134.39" fill="none" stroke="#45b045" stroke-width="1.15" stroke-linejoin="round"/>
<line x1="308.7" y1="43.72391476439678" x2="308.7" y2="49.48242341680805" stroke="#45b045" stroke-width="1.0" />
<line x1="306.9" y1="43.72391476439678" x2="310.5" y2="43.72391476439678" stroke="#45b045" stroke-width="1.0" />
<line x1="306.9" y1="49.48242341680805" x2="310.5" y2="49.48242341680805" stroke="#45b045" stroke-width="1.0" />
<circle cx="308.70" cy="46.60" r="1.9" fill="#45b045"/>
<line x1="312.55199999999996" y1="51.48251033296036" x2="312.55199999999996" y2="57.24101898537161" stroke="#45b045" stroke-width="1.0" />
<line x1="310.75199999999995" y1="51.48251033296036" x2="314.352" y2="51.48251033296036" stroke="#45b045" stroke-width="1.0" />
<line x1="310.75199999999995" y1="57.24101898537161" x2="314.352" y2="57.24101898537161" stroke="#45b045" stroke-width="1.0" />
<circle cx="312.55" cy="54.36" r="1.9" fill="#45b045"/>
<line x1="316.404" y1="59.03455007115862" x2="316.404" y2="64.79305872356989" stroke="#45b045" stroke-width="1.0" />
<line x1="314.604" y1="59.03455007115862" x2="318.204" y2="59.03455007115862" stroke="#45b045" stroke-width="1.0" />
<line x1="314.604" y1="64.79305872356989" x2="318.204" y2="64.79305872356989" stroke="#45b045" stroke-width="1.0" />
<circle cx="316.40" cy="61.91" r="1.9" fill="#45b045"/>
<line x1="324.108" y1="70.58768019093797" x2="324.108" y2="76.34618884334922" stroke="#45b045" stroke-width="1.0" />
<line x1="322.308" y1="70.58768019093797" x2="325.908" y2="70.58768019093797" stroke="#45b045" stroke-width="1.0" />
<line x1="322.308" y1="76.34618884334922" x2="325.908" y2="76.34618884334922" stroke="#45b045" stroke-width="1.0" />
<circle cx="324.11" cy="73.47" r="1.9" fill="#45b045"/>
<line x1="354.924" y1="92.70496481862138" x2="354.924" y2="95.66575105459951" stroke="#45b045" stroke-width="1.0" />
<line x1="353.12399999999997" y1="92.70496481862138" x2="356.724" y2="92.70496481862138" stroke="#45b045" stroke-width="1.0" />
<line x1="353.12399999999997" y1="95.66575105459951" x2="356.724" y2="95.66575105459951" stroke="#45b045" stroke-width="1.0" />
<circle cx="354.92" cy="94.19" r="1.9" fill="#45b045"/>
<line x1="370.332" y1="115.05920085797209" x2="370.332" y2="118.49710284714163" stroke="#45b045" stroke-width="1.0" />
<line x1="368.532" y1="115.05920085797209" x2="372.132" y2="115.05920085797209" stroke="#45b045" stroke-width="1.0" />
<line x1="368.532" y1="118.49710284714163" x2="372.132" y2="118.49710284714163" stroke="#45b045" stroke-width="1.0" />
<circle cx="370.33" cy="116.78" r="1.9" fill="#45b045"/>
<line x1="493.596" y1="132.4331169029132" x2="493.596" y2="136.3436962948863" stroke="#45b045" stroke-width="1.0" />
<line x1="491.796" y1="132.4331169029132" x2="495.396" y2="132.4331169029132" stroke="#45b045" stroke-width="1.0" />
<line x1="491.796" y1="136.3436962948863" x2="495.396" y2="136.3436962948863" stroke="#45b045" stroke-width="1.0" />
<circle cx="493.60" cy="134.39" r="1.9" fill="#45b045"/>
<polyline points="308.70,45.30 312.55,55.10 316.40,67.95 324.11,79.52 354.92,103.05 370.33,126.45 493.60,144.69" fill="none" stroke="#c8143a" stroke-width="1.15" stroke-linejoin="round"/>
<line x1="308.7" y1="40.66789710621397" x2="308.7" y2="49.93210289378605" stroke="#c8143a" stroke-width="1.0" />
<line x1="306.9" y1="40.66789710621397" x2="310.5" y2="40.66789710621397" stroke="#c8143a" stroke-width="1.0" />
<line x1="306.9" y1="49.93210289378605" x2="310.5" y2="49.93210289378605" stroke="#c8143a" stroke-width="1.0" />
<circle cx="308.70" cy="45.30" r="1.9" fill="#c8143a"/>
<line x1="312.55199999999996" y1="52.21897428047957" x2="312.55199999999996" y2="57.97748293289081" stroke="#c8143a" stroke-width="1.0" />
<line x1="310.75199999999995" y1="52.21897428047957" x2="314.352" y2="52.21897428047957" stroke="#c8143a" stroke-width="1.0" />
<line x1="310.75199999999995" y1="57.97748293289081" x2="314.352" y2="57.97748293289081" stroke="#c8143a" stroke-width="1.0" />
<circle cx="312.55" cy="55.10" r="1.9" fill="#c8143a"/>
<line x1="316.404" y1="64.4013207212092" x2="316.404" y2="71.50296804258177" stroke="#c8143a" stroke-width="1.0" />
<line x1="314.604" y1="64.4013207212092" x2="318.204" y2="64.4013207212092" stroke="#c8143a" stroke-width="1.0" />
<line x1="314.604" y1="71.50296804258177" x2="318.204" y2="71.50296804258177" stroke="#c8143a" stroke-width="1.0" />
<circle cx="316.40" cy="67.95" r="1.9" fill="#c8143a"/>
<line x1="324.108" y1="76.64480481750152" x2="324.108" y2="82.40331346991279" stroke="#c8143a" stroke-width="1.0" />
<line x1="322.308" y1="76.64480481750152" x2="325.908" y2="76.64480481750152" stroke="#c8143a" stroke-width="1.0" />
<line x1="322.308" y1="82.40331346991279" x2="325.908" y2="82.40331346991279" stroke="#c8143a" stroke-width="1.0" />
<circle cx="324.11" cy="79.52" r="1.9" fill="#c8143a"/>
<line x1="354.924" y1="99.94393341096739" x2="354.924" y2="106.15411129852748" stroke="#c8143a" stroke-width="1.0" />
<line x1="353.12399999999997" y1="99.94393341096739" x2="356.724" y2="99.94393341096739" stroke="#c8143a" stroke-width="1.0" />
<line x1="353.12399999999997" y1="106.15411129852748" x2="356.724" y2="106.15411129852748" stroke="#c8143a" stroke-width="1.0" />
<circle cx="354.92" cy="103.05" r="1.9" fill="#c8143a"/>
<line x1="370.332" y1="124.03067230013932" x2="370.332" y2="128.87361646365167" stroke="#c8143a" stroke-width="1.0" />
<line x1="368.532" y1="124.03067230013932" x2="372.132" y2="124.03067230013932" stroke="#c8143a" stroke-width="1.0" />
<line x1="368.532" y1="128.87361646365167" x2="372.132" y2="128.87361646365167" stroke="#c8143a" stroke-width="1.0" />
<circle cx="370.33" cy="126.45" r="1.9" fill="#c8143a"/>
<line x1="493.596" y1="138.4179620292568" x2="493.596" y2="150.9615284780574" stroke="#c8143a" stroke-width="1.0" />
<line x1="491.796" y1="138.4179620292568" x2="495.396" y2="138.4179620292568" stroke="#c8143a" stroke-width="1.0" />
<line x1="491.796" y1="150.9615284780574" x2="495.396" y2="150.9615284780574" stroke="#c8143a" stroke-width="1.0" />
<circle cx="493.60" cy="144.69" r="1.9" fill="#c8143a"/>
<polygon points="377.95,180.00 378.51,181.23 379.85,181.38 378.85,182.29 379.13,183.62 377.95,182.95 376.77,183.62 377.05,182.29 376.05,181.38 377.39,181.23" fill="#151515"/>
<polygon points="382.35,180.00 382.91,181.23 384.25,181.38 383.25,182.29 383.53,183.62 382.35,182.95 381.17,183.62 381.45,182.29 380.45,181.38 381.79,181.23" fill="#151515"/>
<polygon points="386.75,180.00 387.31,181.23 388.65,181.38 387.65,182.29 387.93,183.62 386.75,182.95 385.57,183.62 385.85,182.29 384.85,181.38 386.19,181.23" fill="#151515"/>
<line x1="54.9" y1="551.7" x2="54.9" y2="677.9" stroke="#1a1a1a" stroke-width="1.3" />
<line x1="54.3" y1="677.3" x2="215.4" y2="677.3" stroke="#1a1a1a" stroke-width="1.3" />
<line x1="51.9" y1="654.2" x2="54.9" y2="654.2" stroke="#1a1a1a" stroke-width="1.1" />
<line x1="51.9" y1="603.2" x2="54.9" y2="603.2" stroke="#1a1a1a" stroke-width="1.1" />
<line x1="51.9" y1="552.2" x2="54.9" y2="552.2" stroke="#1a1a1a" stroke-width="1.1" />
<line x1="53.3" y1="674.494940442274" x2="54.9" y2="674.494940442274" stroke="#1a1a1a" stroke-width="0.8" />
<line x1="53.3" y1="669.5525297788631" x2="54.9" y2="669.5525297788631" stroke="#1a1a1a" stroke-width="0.8" />
<line x1="53.3" y1="665.5142862304342" x2="54.9" y2="665.5142862304342" stroke="#1a1a1a" stroke-width="0.8" />
<line x1="53.3" y1="662.099999959273" x2="54.9" y2="662.099999959273" stroke="#1a1a1a" stroke-width="0.8" />
<line x1="53.3" y1="659.1424106634109" x2="54.9" y2="659.1424106634109" stroke="#1a1a1a" stroke-width="0.8" />
<line x1="53.3" y1="656.5336320185945" x2="54.9" y2="656.5336320185945" stroke="#1a1a1a" stroke-width="0.8" />
<line x1="53.3" y1="638.847470221137" x2="54.9" y2="638.847470221137" stroke="#1a1a1a" stroke-width="0.8" />
<line x1="53.3" y1="629.8668160092973" x2="54.9" y2="629.8668160092973" stroke="#1a1a1a" stroke-width="0.8" />
<line x1="53.3" y1="623.494940442274" x2="54.9" y2="623.494940442274" stroke="#1a1a1a" stroke-width="0.8" />
<line x1="53.3" y1="618.5525297788631" x2="54.9" y2="618.5525297788631" stroke="#1a1a1a" stroke-width="0.8" />
<line x1="53.3" y1="614.5142862304342" x2="54.9" y2="614.5142862304342" stroke="#1a1a1a" stroke-width="0.8" />
<line x1="53.3" y1="611.099999959273" x2="54.9" y2="611.099999959273" stroke="#1a1a1a" stroke-width="0.8" />
<line x1="53.3" y1="608.1424106634109" x2="54.9" y2="608.1424106634109" stroke="#1a1a1a" stroke-width="0.8" />
<line x1="53.3" y1="605.5336320185945" x2="54.9" y2="605.5336320185945" stroke="#1a1a1a" stroke-width="0.8" />
<line x1="53.3" y1="587.847470221137" x2="54.9" y2="587.847470221137" stroke="#1a1a1a" stroke-width="0.8" />
<line x1="53.3" y1="578.8668160092973" x2="54.9" y2="578.8668160092973" stroke="#1a1a1a" stroke-width="0.8" />
<line x1="53.3" y1="572.4949404422739" x2="54.9" y2="572.4949404422739" stroke="#1a1a1a" stroke-width="0.8" />
<line x1="53.3" y1="567.5525297788631" x2="54.9" y2="567.5525297788631" stroke="#1a1a1a" stroke-width="0.8" />
<line x1="53.3" y1="563.5142862304342" x2="54.9" y2="563.5142862304342" stroke="#1a1a1a" stroke-width="0.8" />
<line x1="53.3" y1="560.099999959273" x2="54.9" y2="560.099999959273" stroke="#1a1a1a" stroke-width="0.8" />
<line x1="53.3" y1="557.1424106634109" x2="54.9" y2="557.1424106634109" stroke="#1a1a1a" stroke-width="0.8" />
<line x1="53.3" y1="554.5336320185945" x2="54.9" y2="554.5336320185945" stroke="#1a1a1a" stroke-width="0.8" />
<text x="47.9" y="555.6" font-size="9.4" text-anchor="end" font-weight="normal" fill="#222" stroke="#222" stroke-width="0.25" >100</text>
<text x="47.9" y="606.6" font-size="9.4" text-anchor="end" font-weight="normal" fill="#222" stroke="#222" stroke-width="0.25" >10</text>
<text x="47.9" y="657.6" font-size="9.4" text-anchor="end" font-weight="normal" fill="#222" stroke="#222" stroke-width="0.25" >1</text>
<line x1="54.9" y1="677.3" x2="54.9" y2="680.3" stroke="#1a1a1a" stroke-width="1.1" />
<text x="54.9" y="692.4" font-size="9.2" text-anchor="middle" font-weight="normal" fill="#222" stroke="#222" stroke-width="0.25" >0</text>
<line x1="107.30000000000001" y1="677.3" x2="107.30000000000001" y2="680.3" stroke="#1a1a1a" stroke-width="1.1" />
<text x="107.30000000000001" y="692.4" font-size="9.2" text-anchor="middle" font-weight="normal" fill="#222" stroke="#222" stroke-width="0.25" >500</text>
<line x1="159.70000000000002" y1="677.3" x2="159.70000000000002" y2="680.3" stroke="#1a1a1a" stroke-width="1.1" />
<text x="159.70000000000002" y="692.4" font-size="9.2" text-anchor="middle" font-weight="normal" fill="#222" stroke="#222" stroke-width="0.25" >1000</text>
<line x1="212.10000000000002" y1="677.3" x2="212.10000000000002" y2="680.3" stroke="#1a1a1a" stroke-width="1.1" />
<text x="212.10000000000002" y="692.4" font-size="9.2" text-anchor="middle" font-weight="normal" fill="#222" stroke="#222" stroke-width="0.25" >1500</text>
<text transform="translate(21.8,612.1) rotate(-90)" x="0" y="3.89" font-size="10.8" text-anchor="middle" fill="#222" stroke="#222" stroke-width="0.25" textLength="81.5" lengthAdjust="spacingAndGlyphs">Platelet recovery (%)</text>
<text x="135.5" y="708.2" font-size="11" text-anchor="middle" font-weight="normal" fill="#222" stroke="#222" stroke-width="0.25" textLength="43.9" lengthAdjust="spacingAndGlyphs" >Time (min)</text>
<polyline points="54.90,557.14 58.04,574.40 61.19,580.71 67.48,601.50 92.63,619.00 105.20,630.62 205.81,638.85" fill="none" stroke="#1f4d78" stroke-width="1.15" stroke-linejoin="round"/>
<line x1="54.9" y1="554.6322915072317" x2="54.9" y2="559.6525298195902" stroke="#1f4d78" stroke-width="1.0" />
<line x1="53.1" y1="554.6322915072317" x2="56.699999999999996" y2="554.6322915072317" stroke="#1f4d78" stroke-width="1.0" />
<line x1="53.1" y1="559.6525298195902" x2="56.699999999999996" y2="559.6525298195902" stroke="#1f4d78" stroke-width="1.0" />
<circle cx="54.90" cy="557.14" r="1.9" fill="#1f4d78"/>
<line x1="58.044" y1="571.3064408651093" x2="58.044" y2="577.4976205811777" stroke="#1f4d78" stroke-width="1.0" />
<line x1="56.244" y1="571.3064408651093" x2="59.843999999999994" y2="571.3064408651093" stroke="#1f4d78" stroke-width="1.0" />
<line x1="56.244" y1="577.4976205811777" x2="59.843999999999994" y2="577.4976205811777" stroke="#1f4d78" stroke-width="1.0" />
<circle cx="58.04" cy="574.40" r="1.9" fill="#1f4d78"/>
<line x1="61.188" y1="578.2035176584947" x2="61.188" y2="583.2237559708532" stroke="#1f4d78" stroke-width="1.0" />
<line x1="59.388000000000005" y1="578.2035176584947" x2="62.988" y2="578.2035176584947" stroke="#1f4d78" stroke-width="1.0" />
<line x1="59.388000000000005" y1="583.2237559708532" x2="62.988" y2="583.2237559708532" stroke="#1f4d78" stroke-width="1.0" />
<circle cx="61.19" cy="580.71" r="1.9" fill="#1f4d78"/>
<line x1="67.476" y1="594.5166525148572" x2="67.476" y2="611.4186963724001" stroke="#1f4d78" stroke-width="1.0" />
<line x1="65.676" y1="594.5166525148572" x2="69.276" y2="594.5166525148572" stroke="#1f4d78" stroke-width="1.0" />
<line x1="65.676" y1="611.4186963724001" x2="69.276" y2="611.4186963724001" stroke="#1f4d78" stroke-width="1.0" />
<circle cx="67.48" cy="601.50" r="1.9" fill="#1f4d78"/>
<line x1="92.628" y1="616.4898807623666" x2="92.628" y2="621.5101190747251" stroke="#1f4d78" stroke-width="1.0" />
<line x1="90.828" y1="616.4898807623666" x2="94.428" y2="616.4898807623666" stroke="#1f4d78" stroke-width="1.0" />
<line x1="90.828" y1="621.5101190747251" x2="94.428" y2="621.5101190747251" stroke="#1f4d78" stroke-width="1.0" />
<circle cx="92.63" cy="619.00" r="1.9" fill="#1f4d78"/>
<line x1="105.20400000000001" y1="626.9517197345409" x2="105.20400000000001" y2="634.2836844797657" stroke="#1f4d78" stroke-width="1.0" />
<line x1="103.40400000000001" y1="626.9517197345409" x2="107.004" y2="626.9517197345409" stroke="#1f4d78" stroke-width="1.0" />
<line x1="103.40400000000001" y1="634.2836844797657" x2="107.004" y2="634.2836844797657" stroke="#1f4d78" stroke-width="1.0" />
<circle cx="105.20" cy="630.62" r="1.9" fill="#1f4d78"/>
<line x1="205.812" y1="637.7668159685702" x2="205.812" y2="639.9281244737039" stroke="#1f4d78" stroke-width="1.0" />
<line x1="204.012" y1="637.7668159685702" x2="207.61200000000002" y2="637.7668159685702" stroke="#1f4d78" stroke-width="1.0" />
<line x1="204.012" y1="639.9281244737039" x2="207.61200000000002" y2="639.9281244737039" stroke="#1f4d78" stroke-width="1.0" />
<circle cx="205.81" cy="638.85" r="1.9" fill="#1f4d78"/>
<polyline points="54.90,555.80 58.04,561.40 61.19,563.51 67.48,573.81 92.63,595.12 105.20,614.89 205.81,629.87" fill="none" stroke="#464856" stroke-width="1.15" stroke-linejoin="round"/>
<line x1="54.9" y1="553.2895156323918" x2="54.9" y2="558.3097539447504" stroke="#464856" stroke-width="1.0" />
<line x1="53.1" y1="553.2895156323918" x2="56.699999999999996" y2="553.2895156323918" stroke="#464856" stroke-width="1.0" />
<line x1="53.1" y1="558.3097539447504" x2="56.699999999999996" y2="558.3097539447504" stroke="#464856" stroke-width="1.0" />
<circle cx="54.90" cy="555.80" r="1.9" fill="#464856"/>
<line x1="58.044" y1="558.8931401311854" x2="58.044" y2="563.913378443544" stroke="#464856" stroke-width="1.0" />
<line x1="56.244" y1="558.8931401311854" x2="59.843999999999994" y2="558.8931401311854" stroke="#464856" stroke-width="1.0" />
<line x1="56.244" y1="563.913378443544" x2="59.843999999999994" y2="563.913378443544" stroke="#464856" stroke-width="1.0" />
<circle cx="58.04" cy="561.40" r="1.9" fill="#464856"/>
<line x1="61.188" y1="561.004167074255" x2="61.188" y2="566.0244053866135" stroke="#464856" stroke-width="1.0" />
<line x1="59.388000000000005" y1="561.004167074255" x2="62.988" y2="561.004167074255" stroke="#464856" stroke-width="1.0" />
<line x1="59.388000000000005" y1="566.0244053866135" x2="62.988" y2="566.0244053866135" stroke="#464856" stroke-width="1.0" />
<circle cx="61.19" cy="563.51" r="1.9" fill="#464856"/>
<line x1="67.476" y1="571.2964719833253" x2="67.476" y2="576.3167102956838" stroke="#464856" stroke-width="1.0" />
<line x1="65.676" y1="571.2964719833253" x2="69.276" y2="571.2964719833253" stroke="#464856" stroke-width="1.0" />
<line x1="65.676" y1="576.3167102956838" x2="69.276" y2="576.3167102956838" stroke="#464856" stroke-width="1.0" />
<circle cx="67.48" cy="573.81" r="1.9" fill="#464856"/>
<line x1="92.628" y1="593.4189013733079" x2="92.628" y2="596.8281244329768" stroke="#464856" stroke-width="1.0" />
<line x1="90.828" y1="593.4189013733079" x2="94.428" y2="593.4189013733079" stroke="#464856" stroke-width="1.0" />
<line x1="90.828" y1="596.8281244329768" x2="94.428" y2="596.8281244329768" stroke="#464856" stroke-width="1.0" />
<circle cx="92.63" cy="595.12" r="1.9" fill="#464856"/>
<line x1="105.20400000000001" y1="613.1819358764162" x2="105.20400000000001" y2="616.5911589360851" stroke="#464856" stroke-width="1.0" />
<line x1="103.40400000000001" y1="613.1819358764162" x2="107.004" y2="613.1819358764162" stroke="#464856" stroke-width="1.0" />
<line x1="103.40400000000001" y1="616.5911589360851" x2="107.004" y2="616.5911589360851" stroke="#464856" stroke-width="1.0" />
<circle cx="105.20" cy="614.89" r="1.9" fill="#464856"/>
<line x1="205.812" y1="627.7557890662277" x2="205.812" y2="631.9778429523667" stroke="#464856" stroke-width="1.0" />
<line x1="204.012" y1="627.7557890662277" x2="207.61200000000002" y2="627.7557890662277" stroke="#464856" stroke-width="1.0" />
<line x1="204.012" y1="631.9778429523667" x2="207.61200000000002" y2="631.9778429523667" stroke="#464856" stroke-width="1.0" />
<circle cx="205.81" cy="629.87" r="1.9" fill="#464856"/>
<polyline points="54.90,555.03 58.04,562.08 61.19,564.27 67.48,576.76 92.63,604.81 105.20,608.14 205.81,616.85" fill="none" stroke="#45b045" stroke-width="1.15" stroke-linejoin="round"/>
<line x1="54.9" y1="552.5212645641622" x2="54.9" y2="557.5415028765207" stroke="#45b045" stroke-width="1.0" />
<line x1="53.1" y1="552.5212645641622" x2="56.699999999999996" y2="552.5212645641622" stroke="#45b045" stroke-width="1.0" />
<line x1="53.1" y1="557.5415028765207" x2="56.699999999999996" y2="557.5415028765207" stroke="#45b045" stroke-width="1.0" />
<circle cx="54.90" cy="555.03" r="1.9" fill="#45b045"/>
<line x1="58.044" y1="559.5747021706426" x2="58.044" y2="564.5949404830011" stroke="#45b045" stroke-width="1.0" />
<line x1="56.244" y1="559.5747021706426" x2="59.843999999999994" y2="559.5747021706426" stroke="#45b045" stroke-width="1.0" />
<line x1="56.244" y1="564.5949404830011" x2="59.843999999999994" y2="564.5949404830011" stroke="#45b045" stroke-width="1.0" />
<circle cx="58.04" cy="562.08" r="1.9" fill="#45b045"/>
<line x1="61.188" y1="561.7550531721109" x2="61.188" y2="566.7752914844696" stroke="#45b045" stroke-width="1.0" />
<line x1="59.388000000000005" y1="561.7550531721109" x2="62.988" y2="561.7550531721109" stroke="#45b045" stroke-width="1.0" />
<line x1="59.388000000000005" y1="566.7752914844696" x2="62.988" y2="566.7752914844696" stroke="#45b045" stroke-width="1.0" />
<circle cx="61.19" cy="564.27" r="1.9" fill="#45b045"/>
<line x1="67.476" y1="574.2456699100485" x2="67.476" y2="579.265908222407" stroke="#45b045" stroke-width="1.0" />
<line x1="65.676" y1="574.2456699100485" x2="69.276" y2="574.2456699100485" stroke="#45b045" stroke-width="1.0" />
<line x1="65.676" y1="579.265908222407" x2="69.276" y2="579.265908222407" stroke="#45b045" stroke-width="1.0" />
<circle cx="67.48" cy="576.76" r="1.9" fill="#45b045"/>
<line x1="92.628" y1="602.29725046757" x2="92.628" y2="607.3174887799286" stroke="#45b045" stroke-width="1.0" />
<line x1="90.828" y1="602.29725046757" x2="94.428" y2="602.29725046757" stroke="#45b045" stroke-width="1.0" />
<line x1="90.828" y1="607.3174887799286" x2="94.428" y2="607.3174887799286" stroke="#45b045" stroke-width="1.0" />
<circle cx="92.63" cy="604.81" r="1.9" fill="#45b045"/>
<line x1="105.20400000000001" y1="606.4377991335765" x2="105.20400000000001" y2="609.8470221932454" stroke="#45b045" stroke-width="1.0" />
<line x1="103.40400000000001" y1="606.4377991335765" x2="107.004" y2="606.4377991335765" stroke="#45b045" stroke-width="1.0" />
<line x1="103.40400000000001" y1="609.8470221932454" x2="107.004" y2="609.8470221932454" stroke="#45b045" stroke-width="1.0" />
<circle cx="105.20" cy="608.14" r="1.9" fill="#45b045"/>
<line x1="205.812" y1="615.7672639964618" x2="205.812" y2="617.9285725015955" stroke="#45b045" stroke-width="1.0" />
<line x1="204.012" y1="615.7672639964618" x2="207.61200000000002" y2="615.7672639964618" stroke="#45b045" stroke-width="1.0" />
<line x1="204.012" y1="617.9285725015955" x2="207.61200000000002" y2="617.9285725015955" stroke="#45b045" stroke-width="1.0" />
<circle cx="205.81" cy="616.85" r="1.9" fill="#45b045"/>
<polyline points="54.90,554.53 58.04,560.74 61.19,562.43 67.48,575.45 92.63,605.53 105.20,607.87 205.81,623.49" fill="none" stroke="#52265f" stroke-width="1.15" stroke-linejoin="round"/>
<line x1="54.9" y1="552.0235128624151" x2="54.9" y2="557.0437511747738" stroke="#52265f" stroke-width="1.0" />
<line x1="53.1" y1="552.0235128624151" x2="56.699999999999996" y2="552.0235128624151" stroke="#52265f" stroke-width="1.0" />
<line x1="53.1" y1="557.0437511747738" x2="56.699999999999996" y2="557.0437511747738" stroke="#52265f" stroke-width="1.0" />
<circle cx="54.90" cy="554.53" r="1.9" fill="#52265f"/>
<line x1="58.044" y1="558.2319262958027" x2="58.044" y2="563.2521646081613" stroke="#52265f" stroke-width="1.0" />
<line x1="56.244" y1="558.2319262958027" x2="59.843999999999994" y2="558.2319262958027" stroke="#52265f" stroke-width="1.0" />
<line x1="56.244" y1="563.2521646081613" x2="59.843999999999994" y2="563.2521646081613" stroke="#52265f" stroke-width="1.0" />
<circle cx="58.04" cy="560.74" r="1.9" fill="#52265f"/>
<line x1="61.188" y1="559.9235128216881" x2="61.188" y2="564.9437511340467" stroke="#52265f" stroke-width="1.0" />
<line x1="59.388000000000005" y1="559.9235128216881" x2="62.988" y2="559.9235128216881" stroke="#52265f" stroke-width="1.0" />
<line x1="59.388000000000005" y1="564.9437511340467" x2="62.988" y2="564.9437511340467" stroke="#52265f" stroke-width="1.0" />
<circle cx="61.19" cy="562.43" r="1.9" fill="#52265f"/>
<line x1="67.476" y1="572.9424105819568" x2="67.476" y2="577.9626488943153" stroke="#52265f" stroke-width="1.0" />
<line x1="65.676" y1="572.9424105819568" x2="69.276" y2="572.9424105819568" stroke="#52265f" stroke-width="1.0" />
<line x1="65.676" y1="577.9626488943153" x2="69.276" y2="577.9626488943153" stroke="#52265f" stroke-width="1.0" />
<circle cx="67.48" cy="575.45" r="1.9" fill="#52265f"/>
<line x1="92.628" y1="603.0235128624153" x2="92.628" y2="608.0437511747738" stroke="#52265f" stroke-width="1.0" />
<line x1="90.828" y1="603.0235128624153" x2="94.428" y2="603.0235128624153" stroke="#52265f" stroke-width="1.0" />
<line x1="90.828" y1="608.0437511747738" x2="94.428" y2="608.0437511747738" stroke="#52265f" stroke-width="1.0" />
<circle cx="92.63" cy="605.53" r="1.9" fill="#52265f"/>
<line x1="105.20400000000001" y1="605.3571448810096" x2="105.20400000000001" y2="610.3773831933681" stroke="#52265f" stroke-width="1.0" />
<line x1="103.40400000000001" y1="605.3571448810096" x2="107.004" y2="605.3571448810096" stroke="#52265f" stroke-width="1.0" />
<line x1="103.40400000000001" y1="610.3773831933681" x2="107.004" y2="610.3773831933681" stroke="#52265f" stroke-width="1.0" />
<circle cx="105.20" cy="607.87" r="1.9" fill="#52265f"/>
<line x1="205.812" y1="621.3839134992045" x2="205.812" y2="625.6059673853434" stroke="#52265f" stroke-width="1.0" />
<line x1="204.012" y1="621.3839134992045" x2="207.61200000000002" y2="621.3839134992045" stroke="#52265f" stroke-width="1.0" />
<line x1="204.012" y1="625.6059673853434" x2="207.61200000000002" y2="625.6059673853434" stroke="#52265f" stroke-width="1.0" />
<circle cx="205.81" cy="623.49" r="1.9" fill="#52265f"/>
<polyline points="54.90,551.12 58.04,562.79 61.19,571.41 67.48,582.55 92.63,598.26 105.20,619.00 205.81,638.85" fill="none" stroke="#c8143a" stroke-width="1.15" stroke-linejoin="round"/>
<line x1="54.9" y1="548.023755889399" x2="54.9" y2="554.2149356054674" stroke="#c8143a" stroke-width="1.0" />
<line x1="53.1" y1="548.023755889399" x2="56.699999999999996" y2="548.023755889399" stroke="#c8143a" stroke-width="1.0" />
<line x1="53.1" y1="554.2149356054674" x2="56.699999999999996" y2="554.2149356054674" stroke="#c8143a" stroke-width="1.0" />
<circle cx="54.90" cy="551.12" r="1.9" fill="#c8143a"/>
<line x1="58.044" y1="560.2779046794099" x2="58.044" y2="565.2981429917684" stroke="#c8143a" stroke-width="1.0" />
<line x1="56.244" y1="560.2779046794099" x2="59.843999999999994" y2="560.2779046794099" stroke="#c8143a" stroke-width="1.0" />
<line x1="56.244" y1="565.2981429917684" x2="59.843999999999994" y2="565.2981429917684" stroke="#c8143a" stroke-width="1.0" />
<circle cx="58.04" cy="562.79" r="1.9" fill="#c8143a"/>
<line x1="61.188" y1="568.9041670335279" x2="61.188" y2="573.9244053458864" stroke="#c8143a" stroke-width="1.0" />
<line x1="59.388000000000005" y1="568.9041670335279" x2="62.988" y2="568.9041670335279" stroke="#c8143a" stroke-width="1.0" />
<line x1="59.388000000000005" y1="573.9244053458864" x2="62.988" y2="573.9244053458864" stroke="#c8143a" stroke-width="1.0" />
<circle cx="61.19" cy="571.41" r="1.9" fill="#c8143a"/>
<line x1="67.476" y1="580.4424535093137" x2="67.476" y2="584.6645073954527" stroke="#c8143a" stroke-width="1.0" />
<line x1="65.676" y1="580.4424535093137" x2="69.276" y2="580.4424535093137" stroke="#c8143a" stroke-width="1.0" />
<line x1="65.676" y1="584.6645073954527" x2="69.276" y2="584.6645073954527" stroke="#c8143a" stroke-width="1.0" />
<circle cx="67.48" cy="582.55" r="1.9" fill="#c8143a"/>
<line x1="92.628" y1="596.1465623935197" x2="92.628" y2="600.3686162796587" stroke="#c8143a" stroke-width="1.0" />
<line x1="90.828" y1="596.1465623935197" x2="94.428" y2="596.1465623935197" stroke="#c8143a" stroke-width="1.0" />
<line x1="90.828" y1="600.3686162796587" x2="94.428" y2="600.3686162796587" stroke="#c8143a" stroke-width="1.0" />
<circle cx="92.63" cy="598.26" r="1.9" fill="#c8143a"/>
<line x1="105.20400000000001" y1="616.4898807623666" x2="105.20400000000001" y2="621.5101190747251" stroke="#c8143a" stroke-width="1.0" />
<line x1="103.40400000000001" y1="616.4898807623666" x2="107.004" y2="616.4898807623666" stroke="#c8143a" stroke-width="1.0" />
<line x1="103.40400000000001" y1="621.5101190747251" x2="107.004" y2="621.5101190747251" stroke="#c8143a" stroke-width="1.0" />
<circle cx="105.20" cy="619.00" r="1.9" fill="#c8143a"/>
<line x1="205.812" y1="635.1814878485246" x2="205.812" y2="642.5134525937494" stroke="#c8143a" stroke-width="1.0" />
<line x1="204.012" y1="635.1814878485246" x2="207.61200000000002" y2="635.1814878485246" stroke="#c8143a" stroke-width="1.0" />
<line x1="204.012" y1="642.5134525937494" x2="207.61200000000002" y2="642.5134525937494" stroke="#c8143a" stroke-width="1.0" />
<circle cx="205.81" cy="638.85" r="1.9" fill="#c8143a"/>
<text x="104.3" y="647.2" font-size="9.8" text-anchor="middle" font-weight="normal" fill="#222" stroke="#222" stroke-width="0.25" >#</text>
<polygon points="132.20,414.50 132.76,415.73 134.10,415.88 133.10,416.79 133.38,418.12 132.20,417.45 131.02,418.12 131.30,416.79 130.30,415.88 131.64,415.73" fill="#151515"/>
<polygon points="136.60,414.50 137.16,415.73 138.50,415.88 137.50,416.79 137.78,418.12 136.60,417.45 135.42,418.12 135.70,416.79 134.70,415.88 136.04,415.73" fill="#151515"/>
<polygon points="141.00,414.50 141.56,415.73 142.90,415.88 141.90,416.79 142.18,418.12 141.00,417.45 139.82,418.12 140.10,416.79 139.10,415.88 140.44,415.73" fill="#151515"/>
<rect x="113.60" y="381.32" width="9.8" height="81.18" fill="#e8877c"/>
<rect x="131.70" y="433.59" width="9.8" height="28.91" fill="#8c9cc4"/>
<rect x="149.90" y="350.37" width="9.8" height="112.13" fill="#9b7aad"/>
<rect x="168.00" y="347.74" width="9.8" height="114.76" fill="#8e909f"/>
<rect x="186.10" y="345.99" width="9.8" height="116.51" fill="#9fd38e"/>
<line x1="118.5" y1="373.73199999999997" x2="118.5" y2="387.748" stroke="#c8143a" stroke-width="1.0" />
<line x1="116.5" y1="373.73199999999997" x2="120.5" y2="373.73199999999997" stroke="#c8143a" stroke-width="1.0" />
<line x1="116.5" y1="387.748" x2="120.5" y2="387.748" stroke="#c8143a" stroke-width="1.0" />
<line x1="136.6" y1="426.876" x2="136.6" y2="434.468" stroke="#1f4d78" stroke-width="1.0" />
<line x1="134.6" y1="426.876" x2="138.6" y2="426.876" stroke="#1f4d78" stroke-width="1.0" />
<line x1="134.6" y1="434.468" x2="138.6" y2="434.468" stroke="#1f4d78" stroke-width="1.0" />
<line x1="154.8" y1="339.86" x2="154.8" y2="353.876" stroke="#52265f" stroke-width="1.0" />
<line x1="152.8" y1="339.86" x2="156.8" y2="339.86" stroke="#52265f" stroke-width="1.0" />
<line x1="152.8" y1="353.876" x2="156.8" y2="353.876" stroke="#52265f" stroke-width="1.0" />
<line x1="172.9" y1="336.356" x2="172.9" y2="352.70799999999997" stroke="#464856" stroke-width="1.0" />
<line x1="170.9" y1="336.356" x2="174.9" y2="336.356" stroke="#464856" stroke-width="1.0" />
<line x1="170.9" y1="352.70799999999997" x2="174.9" y2="352.70799999999997" stroke="#464856" stroke-width="1.0" />
<line x1="191.0" y1="331.68399999999997" x2="191.0" y2="356.796" stroke="#45b045" stroke-width="1.0" />
<line x1="189.0" y1="331.68399999999997" x2="193.0" y2="331.68399999999997" stroke="#45b045" stroke-width="1.0" />
<line x1="189.0" y1="356.796" x2="193.0" y2="356.796" stroke="#45b045" stroke-width="1.0" />
<circle cx="118.50" cy="373.73" r="2.3" fill="#c8143a"/>
<circle cx="115.00" cy="378.99" r="2.3" fill="#c8143a"/>
<circle cx="122.30" cy="383.08" r="2.3" fill="#c8143a"/>
<circle cx="118.50" cy="387.75" r="2.3" fill="#c8143a"/>
<circle cx="132.80" cy="433.30" r="2.3" fill="#1f4d78"/>
<circle cx="140.10" cy="432.42" r="2.3" fill="#1f4d78"/>
<circle cx="137.10" cy="429.50" r="2.3" fill="#1f4d78"/>
<circle cx="140.60" cy="426.88" r="2.3" fill="#1f4d78"/>
<circle cx="154.80" cy="338.11" r="2.3" fill="#52265f"/>
<circle cx="154.80" cy="347.45" r="2.3" fill="#52265f"/>
<circle cx="151.10" cy="353.58" r="2.3" fill="#52265f"/>
<circle cx="158.60" cy="353.58" r="2.3" fill="#52265f"/>
<circle cx="172.90" cy="332.27" r="2.3" fill="#464856"/>
<circle cx="169.40" cy="345.99" r="2.3" fill="#464856"/>
<circle cx="169.40" cy="352.12" r="2.3" fill="#464856"/>
<circle cx="176.70" cy="349.79" r="2.3" fill="#464856"/>
<circle cx="191.00" cy="331.68" r="2.3" fill="#45b045"/>
<circle cx="191.00" cy="337.52" r="2.3" fill="#45b045"/>
<circle cx="191.00" cy="344.53" r="2.3" fill="#45b045"/>
<circle cx="191.00" cy="356.80" r="2.3" fill="#45b045"/>
<line x1="106.2" y1="316.0" x2="106.2" y2="463.1" stroke="#1a1a1a" stroke-width="1.3" />
<line x1="105.60000000000001" y1="462.5" x2="197" y2="462.5" stroke="#1a1a1a" stroke-width="1.3" />
<line x1="103.0" y1="462.5" x2="106.2" y2="462.5" stroke="#1a1a1a" stroke-width="1.1" />
<text x="99.2" y="465.8" font-size="9.2" text-anchor="end" font-weight="normal" fill="#222" stroke="#222" stroke-width="0.25" >0</text>
<line x1="103.0" y1="433.3" x2="106.2" y2="433.3" stroke="#1a1a1a" stroke-width="1.1" />
<text x="99.2" y="436.6" font-size="9.2" text-anchor="end" font-weight="normal" fill="#222" stroke="#222" stroke-width="0.25" >5000</text>
<line x1="103.0" y1="404.1" x2="106.2" y2="404.1" stroke="#1a1a1a" stroke-width="1.1" />
<text x="99.2" y="407.40000000000003" font-size="9.2" text-anchor="end" font-weight="normal" fill="#222" stroke="#222" stroke-width="0.25" >10000</text>
<line x1="103.0" y1="374.9" x2="106.2" y2="374.9" stroke="#1a1a1a" stroke-width="1.1" />
<text x="99.2" y="378.2" font-size="9.2" text-anchor="end" font-weight="normal" fill="#222" stroke="#222" stroke-width="0.25" >15000</text>
<line x1="103.0" y1="345.7" x2="106.2" y2="345.7" stroke="#1a1a1a" stroke-width="1.1" />
<text x="99.2" y="349.0" font-size="9.2" text-anchor="end" font-weight="normal" fill="#222" stroke="#222" stroke-width="0.25" >20000</text>
<line x1="103.0" y1="316.5" x2="106.2" y2="316.5" stroke="#1a1a1a" stroke-width="1.1" />
<text x="99.2" y="319.8" font-size="9.2" text-anchor="end" font-weight="normal" fill="#222" stroke="#222" stroke-width="0.25" >25000</text>
<line x1="118.5" y1="462.5" x2="118.5" y2="466.0" stroke="#1a1a1a" stroke-width="1.1" />
<line x1="136.6" y1="462.5" x2="136.6" y2="466.0" stroke="#1a1a1a" stroke-width="1.1" />
<line x1="154.8" y1="462.5" x2="154.8" y2="466.0" stroke="#1a1a1a" stroke-width="1.1" />
<line x1="172.9" y1="462.5" x2="172.9" y2="466.0" stroke="#1a1a1a" stroke-width="1.1" />
<line x1="191.0" y1="462.5" x2="191.0" y2="466.0" stroke="#1a1a1a" stroke-width="1.1" />
<text transform="translate(36.3,388) rotate(-90)" x="0" y="3.82" font-size="10.6" text-anchor="middle" fill="#222" stroke="#222" stroke-width="0.25" textLength="17.2" lengthAdjust="spacingAndGlyphs">AUC</text>
<text transform="translate(49.4,388) rotate(-90)" x="0" y="3.82" font-size="10.6" text-anchor="middle" fill="#222" stroke="#222" stroke-width="0.25" textLength="100.3" lengthAdjust="spacingAndGlyphs">(platelet recovery fraction</text>
<text transform="translate(63.4,388) rotate(-90)" x="0" y="3.82" font-size="10.6" text-anchor="middle" fill="#222" stroke="#222" stroke-width="0.25" textLength="73.3" lengthAdjust="spacingAndGlyphs">x time in minutes)</text>
<rect x="372.60" y="612.12" width="9.8" height="93.38" fill="#e8877c"/>
<rect x="390.70" y="635.90" width="9.8" height="69.60" fill="#8c9cc4"/>
<rect x="408.90" y="591.24" width="9.8" height="114.26" fill="#9b7aad"/>
<rect x="427.10" y="592.40" width="9.8" height="113.10" fill="#8e909f"/>
<rect x="445.20" y="590.66" width="9.8" height="114.84" fill="#9fd38e"/>
<line x1="377.5" y1="597.33" x2="377.5" y2="618.5" stroke="#c8143a" stroke-width="1.0" />
<line x1="375.5" y1="597.33" x2="379.5" y2="597.33" stroke="#c8143a" stroke-width="1.0" />
<line x1="375.5" y1="618.5" x2="379.5" y2="618.5" stroke="#c8143a" stroke-width="1.0" />
<line x1="395.6" y1="628.36" x2="395.6" y2="639.96" stroke="#1f4d78" stroke-width="1.0" />
<line x1="393.6" y1="628.36" x2="397.6" y2="628.36" stroke="#1f4d78" stroke-width="1.0" />
<line x1="393.6" y1="639.96" x2="397.6" y2="639.96" stroke="#1f4d78" stroke-width="1.0" />
<line x1="413.8" y1="583.12" x2="413.8" y2="595.88" stroke="#52265f" stroke-width="1.0" />
<line x1="411.8" y1="583.12" x2="415.8" y2="583.12" stroke="#52265f" stroke-width="1.0" />
<line x1="411.8" y1="595.88" x2="415.8" y2="595.88" stroke="#52265f" stroke-width="1.0" />
<line x1="432" y1="581.96" x2="432" y2="597.04" stroke="#464856" stroke-width="1.0" />
<line x1="430" y1="581.96" x2="434" y2="581.96" stroke="#464856" stroke-width="1.0" />
<line x1="430" y1="597.04" x2="434" y2="597.04" stroke="#464856" stroke-width="1.0" />
<line x1="450.1" y1="577.9" x2="450.1" y2="598.2" stroke="#45b045" stroke-width="1.0" />
<line x1="448.1" y1="577.9" x2="452.1" y2="577.9" stroke="#45b045" stroke-width="1.0" />
<line x1="448.1" y1="598.2" x2="452.1" y2="598.2" stroke="#45b045" stroke-width="1.0" />
<circle cx="377.50" cy="597.33" r="2.3" fill="#c8143a"/>
<circle cx="373.70" cy="618.50" r="2.3" fill="#c8143a"/>
<circle cx="381.30" cy="615.02" r="2.3" fill="#c8143a"/>
<circle cx="395.60" cy="628.36" r="2.3" fill="#1f4d78"/>
<circle cx="395.60" cy="634.16" r="2.3" fill="#1f4d78"/>
<circle cx="395.60" cy="639.96" r="2.3" fill="#1f4d78"/>
<circle cx="413.80" cy="583.12" r="2.3" fill="#52265f"/>
<circle cx="413.80" cy="590.08" r="2.3" fill="#52265f"/>
<circle cx="413.80" cy="595.88" r="2.3" fill="#52265f"/>
<circle cx="432.00" cy="581.96" r="2.3" fill="#464856"/>
<circle cx="428.60" cy="597.04" r="2.3" fill="#464856"/>
<circle cx="436.20" cy="593.56" r="2.3" fill="#464856"/>
<circle cx="450.10" cy="577.90" r="2.3" fill="#45b045"/>
<circle cx="450.10" cy="590.08" r="2.3" fill="#45b045"/>
<circle cx="450.10" cy="598.20" r="2.3" fill="#45b045"/>
<line x1="365" y1="560.0" x2="365" y2="706.1" stroke="#1a1a1a" stroke-width="1.3" />
<line x1="364.4" y1="705.5" x2="462" y2="705.5" stroke="#1a1a1a" stroke-width="1.3" />
<line x1="361.8" y1="705.5" x2="365" y2="705.5" stroke="#1a1a1a" stroke-width="1.1" />
<text x="358" y="708.8" font-size="9.2" text-anchor="end" font-weight="normal" fill="#222" stroke="#222" stroke-width="0.25" >0</text>
<line x1="361.8" y1="676.5" x2="365" y2="676.5" stroke="#1a1a1a" stroke-width="1.1" />
<text x="358" y="679.8" font-size="9.2" text-anchor="end" font-weight="normal" fill="#222" stroke="#222" stroke-width="0.25" >5000</text>
<line x1="361.8" y1="647.5" x2="365" y2="647.5" stroke="#1a1a1a" stroke-width="1.1" />
<text x="358" y="650.8" font-size="9.2" text-anchor="end" font-weight="normal" fill="#222" stroke="#222" stroke-width="0.25" >10000</text>
<line x1="361.8" y1="618.5" x2="365" y2="618.5" stroke="#1a1a1a" stroke-width="1.1" />
<text x="358" y="621.8" font-size="9.2" text-anchor="end" font-weight="normal" fill="#222" stroke="#222" stroke-width="0.25" >15000</text>
<line x1="361.8" y1="589.5" x2="365" y2="589.5" stroke="#1a1a1a" stroke-width="1.1" />
<text x="358" y="592.8" font-size="9.2" text-anchor="end" font-weight="normal" fill="#222" stroke="#222" stroke-width="0.25" >20000</text>
<line x1="361.8" y1="560.5" x2="365" y2="560.5" stroke="#1a1a1a" stroke-width="1.1" />
<text x="358" y="563.8" font-size="9.2" text-anchor="end" font-weight="normal" fill="#222" stroke="#222" stroke-width="0.25" >25000</text>
<line x1="377.5" y1="705.5" x2="377.5" y2="709.0" stroke="#1a1a1a" stroke-width="1.1" />
<line x1="395.6" y1="705.5" x2="395.6" y2="709.0" stroke="#1a1a1a" stroke-width="1.1" />
<line x1="413.8" y1="705.5" x2="413.8" y2="709.0" stroke="#1a1a1a" stroke-width="1.1" />
<line x1="432" y1="705.5" x2="432" y2="709.0" stroke="#1a1a1a" stroke-width="1.1" />
<line x1="450.1" y1="705.5" x2="450.1" y2="709.0" stroke="#1a1a1a" stroke-width="1.1" />
<text transform="translate(294.5,628.6) rotate(-90)" x="0" y="3.82" font-size="10.6" text-anchor="middle" fill="#222" stroke="#222" stroke-width="0.25" textLength="21.7" lengthAdjust="spacingAndGlyphs">AUC</text>
<text transform="translate(307.2,631) rotate(-90)" x="0" y="3.82" font-size="10.6" text-anchor="middle" fill="#222" stroke="#222" stroke-width="0.25" textLength="100.4" lengthAdjust="spacingAndGlyphs">(platelet recovery fraction</text>
<text transform="translate(322.2,631) rotate(-90)" x="0" y="3.82" font-size="10.6" text-anchor="middle" fill="#222" stroke="#222" stroke-width="0.25" textLength="71.4" lengthAdjust="spacingAndGlyphs">x time in minutes)</text>
<text x="395.4" y="621.4" font-size="9.8" text-anchor="middle" font-weight="normal" fill="#222" stroke="#222" stroke-width="0.25" >#</text>
</g>
<rect x="0.55" y="0.55" width="518.9" height="717.9" fill="none" stroke="#444" stroke-width="1.25"/>
</svg></body></html>
